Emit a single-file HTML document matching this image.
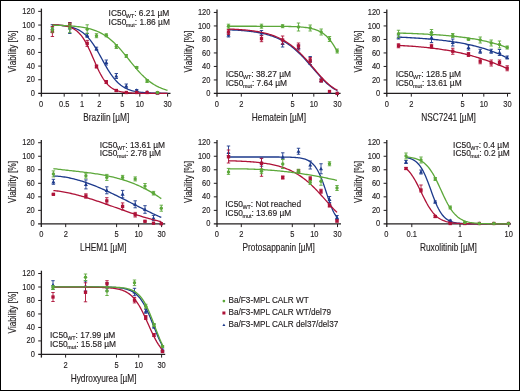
<!DOCTYPE html>
<html><head><meta charset="utf-8"><style>
html,body{margin:0;padding:0;background:#fff;}
svg{display:block;will-change:transform;}
text{font-family:"Liberation Sans",sans-serif;fill:#231f20;stroke:#231f20;stroke-width:0.15px;}
.tk text{font-size:8.5px;}
.al{font-size:10.3px;}
.ic{font-size:8.4px;}
.sub{font-size:5.4px;}
.lg{font-size:8.4px;}
</style></head><body>
<svg width="520" height="391" viewBox="0 0 520 391">
<rect x="0" y="0" width="520" height="391" fill="#fff"/>
<path d="M41.40,8.60 V96.65" stroke="#231f20" stroke-width="1.3" fill="none"/>
<path d="M38.20,93.45 H170.50" stroke="#231f20" stroke-width="1.2" fill="none"/>
<path d="M38.20,79.77 H41.40 M38.20,66.09 H41.40 M38.20,52.41 H41.40 M38.20,38.73 H41.40 M38.20,25.05 H41.40 M38.20,11.37 H41.40 M64.20,93.45 V96.65 M82.00,93.45 V96.65 M99.20,93.45 V96.65 M122.30,93.45 V96.65 M139.80,93.45 V96.65 M167.60,93.45 V96.65 " stroke="#231f20" stroke-width="1" fill="none"/>
<g class="tk"><text transform="translate(34.80,96.00) scale(0.880,1)" text-anchor="end">0</text><text transform="translate(34.80,82.32) scale(0.880,1)" text-anchor="end">20</text><text transform="translate(34.80,68.64) scale(0.880,1)" text-anchor="end">40</text><text transform="translate(34.80,54.96) scale(0.880,1)" text-anchor="end">60</text><text transform="translate(34.80,41.28) scale(0.880,1)" text-anchor="end">80</text><text transform="translate(34.80,27.60) scale(0.880,1)" text-anchor="end">100</text><text transform="translate(34.80,13.92) scale(0.880,1)" text-anchor="end">120</text><text transform="translate(41.00,106.55) scale(0.880,1)" text-anchor="middle">0</text><text transform="translate(64.20,106.55) scale(0.880,1)" text-anchor="middle">0.5</text><text transform="translate(82.00,106.55) scale(0.880,1)" text-anchor="middle">1</text><text transform="translate(99.20,106.55) scale(0.880,1)" text-anchor="middle">2</text><text transform="translate(122.30,106.55) scale(0.880,1)" text-anchor="middle">5</text><text transform="translate(139.80,106.55) scale(0.880,1)" text-anchor="middle">10</text><text transform="translate(167.60,106.55) scale(0.880,1)" text-anchor="middle">30</text></g>
<text class="al" transform="translate(106.25,120.65) scale(0.808,1)" text-anchor="middle">Brazilin [µM]</text>
<text class="al" transform="translate(16.30,51.55) rotate(-90) scale(0.788,1)" text-anchor="middle">Viability [%]</text>
<text class="ic" x="108.60" y="15.80">IC50<tspan class="sub" dx="-0.5" dy="1.9">WT</tspan><tspan dy="-1.9">: 6.21 µM</tspan></text>
<text class="ic" x="108.60" y="24.90">IC50<tspan class="sub" dx="-0.5" dy="1.9">mut</tspan><tspan dy="-1.9">: 1.86 µM</tspan></text>
<path d="M52.40,24.88 L53.86,24.94 L55.31,25.02 L56.77,25.10 L58.23,25.19 L59.68,25.30 L61.14,25.43 L62.60,25.58 L64.06,25.76 L65.51,25.96 L66.97,26.20 L68.43,26.47 L69.88,26.78 L71.34,27.14 L72.80,27.56 L74.25,28.04 L75.71,28.59 L77.17,29.22 L78.63,29.94 L80.08,30.76 L81.54,31.70 L83.00,32.75 L84.45,33.93 L85.91,35.25 L87.37,36.72 L88.82,38.34 L90.28,40.12 L91.74,42.06 L93.19,44.14 L94.65,46.37 L96.11,48.73 L97.57,51.20 L99.02,53.75 L100.48,56.37 L101.94,59.01 L103.39,61.66 L104.85,64.27 L106.31,66.82 L107.76,69.29 L109.22,71.64 L110.68,73.86 L112.14,75.94 L113.59,77.87 L115.05,79.64 L116.51,81.26 L117.96,82.72 L119.42,84.04 L120.88,85.22 L122.33,86.26 L123.79,87.19 L125.25,88.00 L126.71,88.72 L128.16,89.35 L129.62,89.90 L131.08,90.38 L132.53,90.79 L133.99,91.15 L135.45,91.46 L136.90,91.73 L138.36,91.97 L139.82,92.17 L141.27,92.34 L142.73,92.49 L144.19,92.62 L145.65,92.73 L147.10,92.82 L148.56,92.90 L150.02,92.97 L151.47,93.04 L152.93,93.09 L154.39,93.13 L155.84,93.17 L157.30,93.20 L158.76,93.23 L160.22,93.25 L161.67,93.28 L163.13,93.29 L164.59,93.31 L166.04,93.32 L167.50,93.33" stroke="#1d3a8c" stroke-width="1.3" fill="none"/>
<path d="M52.40,24.70 V32.30 M50.70,24.70 H54.10 M50.70,32.30 H54.10" stroke="#1d3a8c" stroke-width="0.9" fill="none"/>
<path d="M52.40,26.50 L54.40,30.10 L50.40,30.10 Z" fill="#1d3a8c"/>
<path d="M69.80,22.50 V33.50 M68.10,22.50 H71.50 M68.10,33.50 H71.50" stroke="#1d3a8c" stroke-width="0.9" fill="none"/>
<path d="M69.80,26.00 L71.80,29.60 L67.80,29.60 Z" fill="#1d3a8c"/>
<path d="M87.20,33.30 V37.30 M85.50,33.30 H88.90 M85.50,37.30 H88.90" stroke="#1d3a8c" stroke-width="0.9" fill="none"/>
<path d="M87.20,33.30 L89.20,36.90 L85.20,36.90 Z" fill="#1d3a8c"/>
<path d="M96.50,47.20 V50.20 M94.80,47.20 H98.20 M94.80,50.20 H98.20" stroke="#1d3a8c" stroke-width="0.9" fill="none"/>
<path d="M96.50,46.70 L98.50,50.30 L94.50,50.30 Z" fill="#1d3a8c"/>
<path d="M106.30,60.00 V65.00 M104.60,60.00 H108.00 M104.60,65.00 H108.00" stroke="#1d3a8c" stroke-width="0.9" fill="none"/>
<path d="M106.30,60.50 L108.30,64.10 L104.30,64.10 Z" fill="#1d3a8c"/>
<path d="M116.30,73.50 V78.50 M114.60,73.50 H118.00 M114.60,78.50 H118.00" stroke="#1d3a8c" stroke-width="0.9" fill="none"/>
<path d="M116.30,74.00 L118.30,77.60 L114.30,77.60 Z" fill="#1d3a8c"/>
<path d="M126.30,84.00 V88.00 M124.60,84.00 H128.00 M124.60,88.00 H128.00" stroke="#1d3a8c" stroke-width="0.9" fill="none"/>
<path d="M126.30,84.00 L128.30,87.60 L124.30,87.60 Z" fill="#1d3a8c"/>
<path d="M136.70,89.50 V91.10 M135.00,89.50 H138.40 M135.00,91.10 H138.40" stroke="#1d3a8c" stroke-width="0.9" fill="none"/>
<path d="M136.70,88.30 L138.70,91.90 L134.70,91.90 Z" fill="#1d3a8c"/>

<path d="M147.10,90.00 L149.10,93.60 L145.10,93.60 Z" fill="#1d3a8c"/>

<path d="M157.50,91.00 L159.50,94.60 L155.50,94.60 Z" fill="#1d3a8c"/>
<path d="M52.40,24.70 L53.86,24.76 L55.31,24.83 L56.77,24.92 L58.23,25.02 L59.68,25.15 L61.14,25.31 L62.60,25.49 L64.06,25.72 L65.51,25.99 L66.97,26.32 L68.43,26.72 L69.88,27.19 L71.34,27.76 L72.80,28.44 L74.25,29.25 L75.71,30.20 L77.17,31.33 L78.63,32.65 L80.08,34.18 L81.54,35.94 L83.00,37.94 L84.45,40.20 L85.91,42.71 L87.37,45.46 L88.82,48.43 L90.28,51.59 L91.74,54.87 L93.19,58.24 L94.65,61.61 L96.11,64.94 L97.57,68.15 L99.02,71.20 L100.48,74.04 L101.94,76.65 L103.39,79.01 L104.85,81.12 L106.31,82.98 L107.76,84.60 L109.22,86.00 L110.68,87.20 L112.14,88.22 L113.59,89.08 L115.05,89.81 L116.51,90.42 L117.96,90.93 L119.42,91.36 L120.88,91.71 L122.33,92.01 L123.79,92.25 L125.25,92.45 L126.71,92.62 L128.16,92.76 L129.62,92.87 L131.08,92.97 L132.53,93.04 L133.99,93.11 L135.45,93.16 L136.90,93.20 L138.36,93.24 L139.82,93.27 L141.27,93.29 L142.73,93.31 L144.19,93.33 L145.65,93.34 L147.10,93.35 L148.56,93.36 L150.02,93.37 L151.47,93.37 L152.93,93.38 L154.39,93.38 L155.84,93.38 L157.30,93.39 L158.76,93.39 L160.22,93.39 L161.67,93.39 L163.13,93.39 L164.59,93.40 L166.04,93.40 L167.50,93.40" stroke="#ae1238" stroke-width="1.3" fill="none"/>
<path d="M52.40,26.50 V36.50 M50.70,26.50 H54.10 M50.70,36.50 H54.10" stroke="#ae1238" stroke-width="0.9" fill="none"/>
<rect x="50.75" y="29.85" width="3.30" height="3.30" fill="#ae1238"/>
<path d="M69.80,22.70 V26.70 M68.10,22.70 H71.50 M68.10,26.70 H71.50" stroke="#ae1238" stroke-width="0.9" fill="none"/>
<rect x="68.15" y="23.05" width="3.30" height="3.30" fill="#ae1238"/>
<path d="M87.20,40.40 V46.40 M85.50,40.40 H88.90 M85.50,46.40 H88.90" stroke="#ae1238" stroke-width="0.9" fill="none"/>
<rect x="85.55" y="41.75" width="3.30" height="3.30" fill="#ae1238"/>
<path d="M96.50,65.00 V68.00 M94.80,65.00 H98.20 M94.80,68.00 H98.20" stroke="#ae1238" stroke-width="0.9" fill="none"/>
<rect x="94.85" y="64.85" width="3.30" height="3.30" fill="#ae1238"/>
<path d="M106.30,80.50 V83.50 M104.60,80.50 H108.00 M104.60,83.50 H108.00" stroke="#ae1238" stroke-width="0.9" fill="none"/>
<rect x="104.65" y="80.35" width="3.30" height="3.30" fill="#ae1238"/>
<path d="M116.30,89.50 V91.50 M114.60,89.50 H118.00 M114.60,91.50 H118.00" stroke="#ae1238" stroke-width="0.9" fill="none"/>
<rect x="114.65" y="88.85" width="3.30" height="3.30" fill="#ae1238"/>

<rect x="124.65" y="90.85" width="3.30" height="3.30" fill="#ae1238"/>

<rect x="135.05" y="90.85" width="3.30" height="3.30" fill="#ae1238"/>

<rect x="145.45" y="90.85" width="3.30" height="3.30" fill="#ae1238"/>

<rect x="155.85" y="91.35" width="3.30" height="3.30" fill="#ae1238"/>
<path d="M52.40,25.20 L53.86,25.23 L55.31,25.26 L56.77,25.30 L58.23,25.34 L59.68,25.39 L61.14,25.44 L62.60,25.50 L64.06,25.56 L65.51,25.63 L66.97,25.71 L68.43,25.80 L69.88,25.90 L71.34,26.00 L72.80,26.12 L74.25,26.25 L75.71,26.40 L77.17,26.56 L78.63,26.74 L80.08,26.93 L81.54,27.15 L83.00,27.38 L84.45,27.65 L85.91,27.93 L87.37,28.25 L88.82,28.60 L90.28,28.98 L91.74,29.41 L93.19,29.87 L94.65,30.37 L96.11,30.92 L97.57,31.52 L99.02,32.17 L100.48,32.88 L101.94,33.65 L103.39,34.48 L104.85,35.38 L106.31,36.35 L107.76,37.38 L109.22,38.49 L110.68,39.67 L112.14,40.92 L113.59,42.25 L115.05,43.65 L116.51,45.12 L117.96,46.65 L119.42,48.24 L120.88,49.89 L122.33,51.59 L123.79,53.33 L125.25,55.10 L126.71,56.90 L128.16,58.71 L129.62,60.53 L131.08,62.34 L132.53,64.14 L133.99,65.91 L135.45,67.65 L136.90,69.35 L138.36,71.00 L139.82,72.59 L141.27,74.12 L142.73,75.59 L144.19,76.99 L145.65,78.32 L147.10,79.57 L148.56,80.75 L150.02,81.86 L151.47,82.89 L152.93,83.86 L154.39,84.76 L155.84,85.59 L157.30,86.36 L158.76,87.07 L160.22,87.72 L161.67,88.32 L163.13,88.87 L164.59,89.38 L166.04,89.84 L167.50,90.26" stroke="#5ca83a" stroke-width="1.3" fill="none"/>
<path d="M52.40,27.40 V32.20 M50.70,27.40 H54.10 M50.70,32.20 H54.10" stroke="#5ca83a" stroke-width="0.9" fill="none"/>
<circle cx="52.40" cy="29.80" r="1.70" fill="#5ca83a"/>
<path d="M69.80,23.60 V32.60 M68.10,23.60 H71.50 M68.10,32.60 H71.50" stroke="#5ca83a" stroke-width="0.9" fill="none"/>
<circle cx="69.80" cy="28.10" r="1.70" fill="#5ca83a"/>
<path d="M87.20,24.80 V33.60 M85.50,24.80 H88.90 M85.50,33.60 H88.90" stroke="#5ca83a" stroke-width="0.9" fill="none"/>
<circle cx="87.20" cy="29.20" r="1.70" fill="#5ca83a"/>
<path d="M96.50,33.70 V37.70 M94.80,33.70 H98.20 M94.80,37.70 H98.20" stroke="#5ca83a" stroke-width="0.9" fill="none"/>
<circle cx="96.50" cy="35.70" r="1.70" fill="#5ca83a"/>
<path d="M106.30,33.80 V36.80 M104.60,33.80 H108.00 M104.60,36.80 H108.00" stroke="#5ca83a" stroke-width="0.9" fill="none"/>
<circle cx="106.30" cy="35.30" r="1.70" fill="#5ca83a"/>
<path d="M116.30,44.50 V48.50 M114.60,44.50 H118.00 M114.60,48.50 H118.00" stroke="#5ca83a" stroke-width="0.9" fill="none"/>
<circle cx="116.30" cy="46.50" r="1.70" fill="#5ca83a"/>
<path d="M126.30,54.50 V57.50 M124.60,54.50 H128.00 M124.60,57.50 H128.00" stroke="#5ca83a" stroke-width="0.9" fill="none"/>
<circle cx="126.30" cy="56.00" r="1.70" fill="#5ca83a"/>
<path d="M136.70,66.50 V68.50 M135.00,66.50 H138.40 M135.00,68.50 H138.40" stroke="#5ca83a" stroke-width="0.9" fill="none"/>
<circle cx="136.70" cy="67.50" r="1.70" fill="#5ca83a"/>
<path d="M147.10,79.50 V82.50 M145.40,79.50 H148.80 M145.40,82.50 H148.80" stroke="#5ca83a" stroke-width="0.9" fill="none"/>
<circle cx="147.10" cy="81.00" r="1.70" fill="#5ca83a"/>
<path d="M157.50,92.00 V93.00 M155.80,92.00 H159.20 M155.80,93.00 H159.20" stroke="#5ca83a" stroke-width="0.9" fill="none"/>
<circle cx="157.50" cy="92.50" r="1.70" fill="#5ca83a"/>
<path d="M217.00,9.60 V96.65" stroke="#231f20" stroke-width="1.3" fill="none"/>
<path d="M213.80,93.45 H340.60" stroke="#231f20" stroke-width="1.2" fill="none"/>
<path d="M213.80,79.95 H217.00 M213.80,66.45 H217.00 M213.80,52.95 H217.00 M213.80,39.45 H217.00 M213.80,25.95 H217.00 M213.80,12.45 H217.00 M241.30,93.45 V96.65 M292.50,93.45 V96.65 M313.80,93.45 V96.65 M337.50,93.45 V96.65 " stroke="#231f20" stroke-width="1" fill="none"/>
<g class="tk"><text transform="translate(210.40,96.00) scale(0.880,1)" text-anchor="end">0</text><text transform="translate(210.40,82.50) scale(0.880,1)" text-anchor="end">20</text><text transform="translate(210.40,69.00) scale(0.880,1)" text-anchor="end">40</text><text transform="translate(210.40,55.50) scale(0.880,1)" text-anchor="end">60</text><text transform="translate(210.40,42.00) scale(0.880,1)" text-anchor="end">80</text><text transform="translate(210.40,28.50) scale(0.880,1)" text-anchor="end">100</text><text transform="translate(210.40,15.00) scale(0.880,1)" text-anchor="end">120</text><text transform="translate(216.80,106.55) scale(0.880,1)" text-anchor="middle">0</text><text transform="translate(241.30,106.55) scale(0.880,1)" text-anchor="middle">2</text><text transform="translate(292.50,106.55) scale(0.880,1)" text-anchor="middle">5</text><text transform="translate(313.80,106.55) scale(0.880,1)" text-anchor="middle">10</text><text transform="translate(337.50,106.55) scale(0.880,1)" text-anchor="middle">30</text></g>
<text class="al" transform="translate(278.90,120.65) scale(0.808,1)" text-anchor="middle">Hematein [µM]</text>
<text class="al" transform="translate(191.90,51.55) rotate(-90) scale(0.788,1)" text-anchor="middle">Viability [%]</text>
<text class="ic" x="225.70" y="77.30">IC50<tspan class="sub" dx="-0.5" dy="1.9">WT</tspan><tspan dy="-1.9">: 38.27 µM</tspan></text>
<text class="ic" x="225.70" y="85.60">IC50<tspan class="sub" dx="-0.5" dy="1.9">mut</tspan><tspan dy="-1.9">: 7.64 µM</tspan></text>
<path d="M228.50,29.78 L229.60,29.83 L230.70,29.87 L231.80,29.92 L232.90,29.98 L234.00,30.03 L235.10,30.09 L236.20,30.16 L237.30,30.22 L238.40,30.30 L239.50,30.37 L240.60,30.45 L241.70,30.53 L242.80,30.62 L243.90,30.72 L245.00,30.82 L246.10,30.92 L247.20,31.03 L248.30,31.15 L249.40,31.28 L250.50,31.41 L251.60,31.55 L252.70,31.69 L253.80,31.85 L254.90,32.01 L256.00,32.18 L257.10,32.37 L258.20,32.56 L259.30,32.76 L260.40,32.98 L261.50,33.20 L262.60,33.44 L263.70,33.69 L264.80,33.96 L265.90,34.24 L267.00,34.53 L268.10,34.84 L269.20,35.17 L270.30,35.51 L271.40,35.87 L272.50,36.25 L273.60,36.65 L274.70,37.07 L275.80,37.51 L276.90,37.98 L278.00,38.46 L279.10,38.97 L280.20,39.50 L281.30,40.06 L282.40,40.65 L283.50,41.26 L284.60,41.90 L285.70,42.56 L286.80,43.26 L287.90,43.98 L289.00,44.74 L290.10,45.52 L291.20,46.34 L292.30,47.19 L293.40,48.07 L294.50,48.98 L295.60,49.92 L296.70,50.90 L297.80,51.90 L298.90,52.94 L300.00,54.01 L301.10,55.10 L302.20,56.22 L303.30,57.37 L304.40,58.54 L305.50,59.74 L306.60,60.96 L307.70,62.20 L308.80,63.45 L309.90,64.71 L311.00,65.99 L312.10,67.28 L313.20,68.56 L314.30,69.85 L315.40,71.13 L316.50,72.41 L317.60,73.68 L318.70,74.93 L319.80,76.16 L320.90,77.36 L322.00,78.54 L323.10,79.69 L324.20,80.81 L325.30,81.88 L326.40,82.92 L327.50,83.91 L328.60,84.85 L329.70,85.74 L330.80,86.59 L331.90,87.38 L333.00,88.13 L334.10,88.82 L335.20,89.46 L336.30,90.04 L337.40,90.58" stroke="#1d3a8c" stroke-width="1.3" fill="none"/>
<path d="M228.50,33.00 V37.00 M226.80,33.00 H230.20 M226.80,37.00 H230.20" stroke="#1d3a8c" stroke-width="0.9" fill="none"/>
<path d="M228.50,33.00 L230.50,36.60 L226.50,36.60 Z" fill="#1d3a8c"/>
<path d="M261.50,30.50 V35.50 M259.80,30.50 H263.20 M259.80,35.50 H263.20" stroke="#1d3a8c" stroke-width="0.9" fill="none"/>
<path d="M261.50,31.00 L263.50,34.60 L259.50,34.60 Z" fill="#1d3a8c"/>
<path d="M282.60,40.00 V47.00 M280.90,40.00 H284.30 M280.90,47.00 H284.30" stroke="#1d3a8c" stroke-width="0.9" fill="none"/>
<path d="M282.60,41.50 L284.60,45.10 L280.60,45.10 Z" fill="#1d3a8c"/>
<path d="M298.50,45.00 V50.00 M296.80,45.00 H300.20 M296.80,50.00 H300.20" stroke="#1d3a8c" stroke-width="0.9" fill="none"/>
<path d="M298.50,45.50 L300.50,49.10 L296.50,49.10 Z" fill="#1d3a8c"/>
<path d="M310.20,56.50 V64.50 M308.50,56.50 H311.90 M308.50,64.50 H311.90" stroke="#1d3a8c" stroke-width="0.9" fill="none"/>
<path d="M310.20,58.50 L312.20,62.10 L308.20,62.10 Z" fill="#1d3a8c"/>
<path d="M321.20,79.00 V82.00 M319.50,79.00 H322.90 M319.50,82.00 H322.90" stroke="#1d3a8c" stroke-width="0.9" fill="none"/>
<path d="M321.20,78.50 L323.20,82.10 L319.20,82.10 Z" fill="#1d3a8c"/>

<path d="M329.50,90.00 L331.50,93.60 L327.50,93.60 Z" fill="#1d3a8c"/>

<path d="M337.20,91.00 L339.20,94.60 L335.20,94.60 Z" fill="#1d3a8c"/>
<path d="M228.50,29.01 L229.60,29.05 L230.70,29.10 L231.80,29.15 L232.90,29.20 L234.00,29.25 L235.10,29.31 L236.20,29.37 L237.30,29.43 L238.40,29.50 L239.50,29.58 L240.60,29.65 L241.70,29.73 L242.80,29.82 L243.90,29.91 L245.00,30.01 L246.10,30.11 L247.20,30.22 L248.30,30.33 L249.40,30.45 L250.50,30.58 L251.60,30.71 L252.70,30.85 L253.80,31.00 L254.90,31.16 L256.00,31.33 L257.10,31.51 L258.20,31.70 L259.30,31.90 L260.40,32.11 L261.50,32.33 L262.60,32.56 L263.70,32.81 L264.80,33.07 L265.90,33.34 L267.00,33.63 L268.10,33.93 L269.20,34.25 L270.30,34.59 L271.40,34.95 L272.50,35.32 L273.60,35.72 L274.70,36.13 L275.80,36.57 L276.90,37.02 L278.00,37.50 L279.10,38.01 L280.20,38.54 L281.30,39.09 L282.40,39.67 L283.50,40.28 L284.60,40.91 L285.70,41.58 L286.80,42.27 L287.90,42.99 L289.00,43.75 L290.10,44.53 L291.20,45.35 L292.30,46.19 L293.40,47.07 L294.50,47.98 L295.60,48.93 L296.70,49.91 L297.80,50.91 L298.90,51.95 L300.00,53.02 L301.10,54.12 L302.20,55.25 L303.30,56.40 L304.40,57.58 L305.50,58.79 L306.60,60.02 L307.70,61.26 L308.80,62.52 L309.90,63.80 L311.00,65.09 L312.10,66.39 L313.20,67.69 L314.30,68.99 L315.40,70.29 L316.50,71.58 L317.60,72.86 L318.70,74.13 L319.80,75.38 L320.90,76.60 L322.00,77.80 L323.10,78.97 L324.20,80.10 L325.30,81.20 L326.40,82.26 L327.50,83.27 L328.60,84.24 L329.70,85.15 L330.80,86.02 L331.90,86.84 L333.00,87.61 L334.10,88.33 L335.20,88.99 L336.30,89.61 L337.40,90.17" stroke="#ae1238" stroke-width="1.3" fill="none"/>
<path d="M228.50,29.50 V34.50 M226.80,29.50 H230.20 M226.80,34.50 H230.20" stroke="#ae1238" stroke-width="0.9" fill="none"/>
<rect x="226.85" y="30.35" width="3.30" height="3.30" fill="#ae1238"/>
<path d="M261.50,35.70 V41.70 M259.80,35.70 H263.20 M259.80,41.70 H263.20" stroke="#ae1238" stroke-width="0.9" fill="none"/>
<rect x="259.85" y="37.05" width="3.30" height="3.30" fill="#ae1238"/>
<path d="M282.60,36.00 V44.00 M280.90,36.00 H284.30 M280.90,44.00 H284.30" stroke="#ae1238" stroke-width="0.9" fill="none"/>
<rect x="280.95" y="38.35" width="3.30" height="3.30" fill="#ae1238"/>
<path d="M298.50,43.00 V49.00 M296.80,43.00 H300.20 M296.80,49.00 H300.20" stroke="#ae1238" stroke-width="0.9" fill="none"/>
<rect x="296.85" y="44.35" width="3.30" height="3.30" fill="#ae1238"/>
<path d="M310.20,57.50 V62.50 M308.50,57.50 H311.90 M308.50,62.50 H311.90" stroke="#ae1238" stroke-width="0.9" fill="none"/>
<rect x="308.55" y="58.35" width="3.30" height="3.30" fill="#ae1238"/>
<path d="M321.20,79.00 V82.00 M319.50,79.00 H322.90 M319.50,82.00 H322.90" stroke="#ae1238" stroke-width="0.9" fill="none"/>
<rect x="319.55" y="78.85" width="3.30" height="3.30" fill="#ae1238"/>

<rect x="327.85" y="89.85" width="3.30" height="3.30" fill="#ae1238"/>

<rect x="335.55" y="91.75" width="3.30" height="3.30" fill="#ae1238"/>
<path d="M228.50,26.27 L229.88,26.27 L231.26,26.27 L232.64,26.27 L234.01,26.27 L235.39,26.27 L236.77,26.27 L238.15,26.27 L239.53,26.27 L240.91,26.27 L242.28,26.27 L243.66,26.27 L245.04,26.27 L246.42,26.27 L247.80,26.27 L249.18,26.27 L250.56,26.27 L251.93,26.27 L253.31,26.27 L254.69,26.27 L256.07,26.27 L257.45,26.28 L258.83,26.28 L260.21,26.28 L261.58,26.28 L262.96,26.28 L264.34,26.28 L265.72,26.29 L267.10,26.29 L268.48,26.29 L269.85,26.30 L271.23,26.30 L272.61,26.31 L273.99,26.31 L275.37,26.32 L276.75,26.33 L278.13,26.34 L279.50,26.35 L280.88,26.36 L282.26,26.37 L283.64,26.39 L285.02,26.41 L286.40,26.43 L287.77,26.46 L289.15,26.49 L290.53,26.52 L291.91,26.56 L293.29,26.61 L294.67,26.66 L296.05,26.72 L297.42,26.79 L298.80,26.87 L300.18,26.96 L301.56,27.07 L302.94,27.19 L304.32,27.33 L305.69,27.50 L307.07,27.69 L308.45,27.91 L309.83,28.16 L311.21,28.44 L312.59,28.77 L313.97,29.15 L315.34,29.59 L316.72,30.08 L318.10,30.65 L319.48,31.30 L320.86,32.03 L322.24,32.87 L323.62,33.82 L324.99,34.89 L326.37,36.10 L327.75,37.46 L329.13,38.98 L330.51,40.67 L331.89,42.55 L333.26,44.61 L334.64,46.87 L336.02,49.33 L337.40,51.99" stroke="#5ca83a" stroke-width="1.3" fill="none"/>
<path d="M228.50,24.20 V28.20 M226.80,24.20 H230.20 M226.80,28.20 H230.20" stroke="#5ca83a" stroke-width="0.9" fill="none"/>
<circle cx="228.50" cy="26.20" r="1.70" fill="#5ca83a"/>
<path d="M261.50,24.20 V28.20 M259.80,24.20 H263.20 M259.80,28.20 H263.20" stroke="#5ca83a" stroke-width="0.9" fill="none"/>
<circle cx="261.50" cy="26.20" r="1.70" fill="#5ca83a"/>
<path d="M282.60,24.70 V27.70 M280.90,24.70 H284.30 M280.90,27.70 H284.30" stroke="#5ca83a" stroke-width="0.9" fill="none"/>
<circle cx="282.60" cy="26.20" r="1.70" fill="#5ca83a"/>
<path d="M298.50,23.00 V31.00 M296.80,23.00 H300.20 M296.80,31.00 H300.20" stroke="#5ca83a" stroke-width="0.9" fill="none"/>
<circle cx="298.50" cy="27.00" r="1.70" fill="#5ca83a"/>
<path d="M310.20,25.00 V31.00 M308.50,25.00 H311.90 M308.50,31.00 H311.90" stroke="#5ca83a" stroke-width="0.9" fill="none"/>
<circle cx="310.20" cy="28.00" r="1.70" fill="#5ca83a"/>
<path d="M321.20,29.00 V35.00 M319.50,29.00 H322.90 M319.50,35.00 H322.90" stroke="#5ca83a" stroke-width="0.9" fill="none"/>
<circle cx="321.20" cy="32.00" r="1.70" fill="#5ca83a"/>
<path d="M329.50,36.50 V41.50 M327.80,36.50 H331.20 M327.80,41.50 H331.20" stroke="#5ca83a" stroke-width="0.9" fill="none"/>
<circle cx="329.50" cy="39.00" r="1.70" fill="#5ca83a"/>
<path d="M337.20,49.00 V53.00 M335.50,49.00 H338.90 M335.50,53.00 H338.90" stroke="#5ca83a" stroke-width="0.9" fill="none"/>
<circle cx="337.20" cy="51.00" r="1.70" fill="#5ca83a"/>
<path d="M386.80,9.60 V96.65" stroke="#231f20" stroke-width="1.3" fill="none"/>
<path d="M383.60,93.45 H510.60" stroke="#231f20" stroke-width="1.2" fill="none"/>
<path d="M383.60,79.95 H386.80 M383.60,66.45 H386.80 M383.60,52.95 H386.80 M383.60,39.45 H386.80 M383.60,25.95 H386.80 M383.60,12.45 H386.80 M411.30,93.45 V96.65 M462.50,93.45 V96.65 M483.80,93.45 V96.65 M507.50,93.45 V96.65 " stroke="#231f20" stroke-width="1" fill="none"/>
<g class="tk"><text transform="translate(380.20,96.00) scale(0.880,1)" text-anchor="end">0</text><text transform="translate(380.20,82.50) scale(0.880,1)" text-anchor="end">20</text><text transform="translate(380.20,69.00) scale(0.880,1)" text-anchor="end">40</text><text transform="translate(380.20,55.50) scale(0.880,1)" text-anchor="end">60</text><text transform="translate(380.20,42.00) scale(0.880,1)" text-anchor="end">80</text><text transform="translate(380.20,28.50) scale(0.880,1)" text-anchor="end">100</text><text transform="translate(380.20,15.00) scale(0.880,1)" text-anchor="end">120</text><text transform="translate(386.80,106.55) scale(0.880,1)" text-anchor="middle">0</text><text transform="translate(411.30,106.55) scale(0.880,1)" text-anchor="middle">2</text><text transform="translate(462.50,106.55) scale(0.880,1)" text-anchor="middle">5</text><text transform="translate(483.80,106.55) scale(0.880,1)" text-anchor="middle">10</text><text transform="translate(507.50,106.55) scale(0.880,1)" text-anchor="middle">30</text></g>
<text class="al" transform="translate(448.50,120.65) scale(0.808,1)" text-anchor="middle">NSC7241 [µM]</text>
<text class="al" transform="translate(361.70,51.55) rotate(-90) scale(0.788,1)" text-anchor="middle">Viability [%]</text>
<text class="ic" x="395.70" y="77.30">IC50<tspan class="sub" dx="-0.5" dy="1.9">WT</tspan><tspan dy="-1.9">: 128.5 µM</tspan></text>
<text class="ic" x="395.70" y="85.60">IC50<tspan class="sub" dx="-0.5" dy="1.9">mut</tspan><tspan dy="-1.9">: 13.61 µM</tspan></text>
<path d="M398.50,37.14 L399.88,37.19 L401.25,37.26 L402.63,37.32 L404.00,37.38 L405.38,37.45 L406.76,37.52 L408.13,37.59 L409.51,37.66 L410.88,37.74 L412.26,37.82 L413.64,37.90 L415.01,37.98 L416.39,38.07 L417.76,38.16 L419.14,38.25 L420.52,38.35 L421.89,38.44 L423.27,38.55 L424.64,38.65 L426.02,38.76 L427.39,38.87 L428.77,38.99 L430.15,39.10 L431.52,39.23 L432.90,39.35 L434.27,39.48 L435.65,39.62 L437.03,39.76 L438.40,39.90 L439.78,40.05 L441.15,40.21 L442.53,40.36 L443.91,40.53 L445.28,40.70 L446.66,40.87 L448.03,41.05 L449.41,41.24 L450.79,41.43 L452.16,41.63 L453.54,41.83 L454.91,42.04 L456.29,42.26 L457.67,42.49 L459.04,42.72 L460.42,42.96 L461.79,43.21 L463.17,43.46 L464.55,43.73 L465.92,44.00 L467.30,44.28 L468.67,44.57 L470.05,44.87 L471.43,45.18 L472.80,45.50 L474.18,45.83 L475.55,46.17 L476.93,46.53 L478.31,46.89 L479.68,47.27 L481.06,47.65 L482.43,48.05 L483.81,48.47 L485.18,48.89 L486.56,49.33 L487.94,49.79 L489.31,50.26 L490.69,50.74 L492.06,51.24 L493.44,51.76 L494.82,52.29 L496.19,52.84 L497.57,53.41 L498.94,54.00 L500.32,54.61 L501.70,55.23 L503.07,55.88 L504.45,56.54 L505.82,57.23 L507.20,57.94" stroke="#1d3a8c" stroke-width="1.3" fill="none"/>
<path d="M398.50,35.00 V39.00 M396.80,35.00 H400.20 M396.80,39.00 H400.20" stroke="#1d3a8c" stroke-width="0.9" fill="none"/>
<path d="M398.50,35.00 L400.50,38.60 L396.50,38.60 Z" fill="#1d3a8c"/>
<path d="M431.50,32.50 V42.50 M429.80,32.50 H433.20 M429.80,42.50 H433.20" stroke="#1d3a8c" stroke-width="0.9" fill="none"/>
<path d="M431.50,35.50 L433.50,39.10 L429.50,39.10 Z" fill="#1d3a8c"/>
<path d="M452.75,39.00 V46.00 M451.05,39.00 H454.45 M451.05,46.00 H454.45" stroke="#1d3a8c" stroke-width="0.9" fill="none"/>
<path d="M452.75,40.50 L454.75,44.10 L450.75,44.10 Z" fill="#1d3a8c"/>
<path d="M468.50,45.00 V50.00 M466.80,45.00 H470.20 M466.80,50.00 H470.20" stroke="#1d3a8c" stroke-width="0.9" fill="none"/>
<path d="M468.50,45.50 L470.50,49.10 L466.50,49.10 Z" fill="#1d3a8c"/>
<path d="M480.20,49.25 V53.25 M478.50,49.25 H481.90 M478.50,53.25 H481.90" stroke="#1d3a8c" stroke-width="0.9" fill="none"/>
<path d="M480.20,49.25 L482.20,52.85 L478.20,52.85 Z" fill="#1d3a8c"/>
<path d="M491.20,49.25 V53.25 M489.50,49.25 H492.90 M489.50,53.25 H492.90" stroke="#1d3a8c" stroke-width="0.9" fill="none"/>
<path d="M491.20,49.25 L493.20,52.85 L489.20,52.85 Z" fill="#1d3a8c"/>
<path d="M499.50,49.50 V55.50 M497.80,49.50 H501.20 M497.80,55.50 H501.20" stroke="#1d3a8c" stroke-width="0.9" fill="none"/>
<path d="M499.50,50.50 L501.50,54.10 L497.50,54.10 Z" fill="#1d3a8c"/>
<path d="M507.20,56.00 V59.00 M505.50,56.00 H508.90 M505.50,59.00 H508.90" stroke="#1d3a8c" stroke-width="0.9" fill="none"/>
<path d="M507.20,55.50 L509.20,59.10 L505.20,59.10 Z" fill="#1d3a8c"/>
<path d="M398.50,45.45 L399.88,45.52 L401.25,45.59 L402.63,45.66 L404.00,45.74 L405.38,45.82 L406.76,45.90 L408.13,45.99 L409.51,46.08 L410.88,46.17 L412.26,46.27 L413.64,46.37 L415.01,46.47 L416.39,46.58 L417.76,46.69 L419.14,46.81 L420.52,46.93 L421.89,47.05 L423.27,47.18 L424.64,47.32 L426.02,47.46 L427.39,47.60 L428.77,47.75 L430.15,47.90 L431.52,48.06 L432.90,48.23 L434.27,48.40 L435.65,48.57 L437.03,48.76 L438.40,48.95 L439.78,49.14 L441.15,49.34 L442.53,49.55 L443.91,49.77 L445.28,49.99 L446.66,50.22 L448.03,50.46 L449.41,50.70 L450.79,50.95 L452.16,51.21 L453.54,51.48 L454.91,51.75 L456.29,52.04 L457.67,52.33 L459.04,52.63 L460.42,52.93 L461.79,53.25 L463.17,53.58 L464.55,53.91 L465.92,54.25 L467.30,54.61 L468.67,54.97 L470.05,55.34 L471.43,55.72 L472.80,56.10 L474.18,56.50 L475.55,56.91 L476.93,57.32 L478.31,57.74 L479.68,58.18 L481.06,58.62 L482.43,59.07 L483.81,59.53 L485.18,59.99 L486.56,60.47 L487.94,60.95 L489.31,61.44 L490.69,61.94 L492.06,62.44 L493.44,62.96 L494.82,63.48 L496.19,64.00 L497.57,64.54 L498.94,65.07 L500.32,65.62 L501.70,66.17 L503.07,66.72 L504.45,67.28 L505.82,67.84 L507.20,68.41" stroke="#ae1238" stroke-width="1.3" fill="none"/>
<path d="M398.50,43.75 V47.75 M396.80,43.75 H400.20 M396.80,47.75 H400.20" stroke="#ae1238" stroke-width="0.9" fill="none"/>
<rect x="396.85" y="44.10" width="3.30" height="3.30" fill="#ae1238"/>
<path d="M431.50,44.25 V48.25 M429.80,44.25 H433.20 M429.80,48.25 H433.20" stroke="#ae1238" stroke-width="0.9" fill="none"/>
<rect x="429.85" y="44.60" width="3.30" height="3.30" fill="#ae1238"/>
<path d="M452.75,48.25 V54.25 M451.05,48.25 H454.45 M451.05,54.25 H454.45" stroke="#ae1238" stroke-width="0.9" fill="none"/>
<rect x="451.10" y="49.60" width="3.30" height="3.30" fill="#ae1238"/>
<path d="M468.50,52.50 V56.50 M466.80,52.50 H470.20 M466.80,56.50 H470.20" stroke="#ae1238" stroke-width="0.9" fill="none"/>
<rect x="466.85" y="52.85" width="3.30" height="3.30" fill="#ae1238"/>
<path d="M480.20,58.75 V63.75 M478.50,58.75 H481.90 M478.50,63.75 H481.90" stroke="#ae1238" stroke-width="0.9" fill="none"/>
<rect x="478.55" y="59.60" width="3.30" height="3.30" fill="#ae1238"/>
<path d="M491.20,60.00 V66.00 M489.50,60.00 H492.90 M489.50,66.00 H492.90" stroke="#ae1238" stroke-width="0.9" fill="none"/>
<rect x="489.55" y="61.35" width="3.30" height="3.30" fill="#ae1238"/>
<path d="M499.50,60.00 V65.00 M497.80,60.00 H501.20 M497.80,65.00 H501.20" stroke="#ae1238" stroke-width="0.9" fill="none"/>
<rect x="497.85" y="60.85" width="3.30" height="3.30" fill="#ae1238"/>
<path d="M507.20,65.75 V70.75 M505.50,65.75 H508.90 M505.50,70.75 H508.90" stroke="#ae1238" stroke-width="0.9" fill="none"/>
<rect x="505.55" y="66.60" width="3.30" height="3.30" fill="#ae1238"/>
<path d="M398.50,33.07 L399.88,33.11 L401.25,33.14 L402.63,33.19 L404.00,33.23 L405.38,33.27 L406.76,33.32 L408.13,33.36 L409.51,33.41 L410.88,33.46 L412.26,33.51 L413.64,33.56 L415.01,33.62 L416.39,33.68 L417.76,33.74 L419.14,33.80 L420.52,33.86 L421.89,33.92 L423.27,33.99 L424.64,34.06 L426.02,34.13 L427.39,34.21 L428.77,34.28 L430.15,34.36 L431.52,34.44 L432.90,34.53 L434.27,34.62 L435.65,34.71 L437.03,34.80 L438.40,34.90 L439.78,35.00 L441.15,35.10 L442.53,35.21 L443.91,35.32 L445.28,35.43 L446.66,35.55 L448.03,35.67 L449.41,35.80 L450.79,35.93 L452.16,36.07 L453.54,36.21 L454.91,36.35 L456.29,36.50 L457.67,36.66 L459.04,36.82 L460.42,36.98 L461.79,37.15 L463.17,37.33 L464.55,37.51 L465.92,37.70 L467.30,37.89 L468.67,38.10 L470.05,38.30 L471.43,38.52 L472.80,38.74 L474.18,38.97 L475.55,39.21 L476.93,39.46 L478.31,39.71 L479.68,39.98 L481.06,40.25 L482.43,40.53 L483.81,40.82 L485.18,41.12 L486.56,41.43 L487.94,41.76 L489.31,42.09 L490.69,42.43 L492.06,42.79 L493.44,43.16 L494.82,43.54 L496.19,43.93 L497.57,44.33 L498.94,44.75 L500.32,45.19 L501.70,45.64 L503.07,46.10 L504.45,46.58 L505.82,47.08 L507.20,47.59" stroke="#5ca83a" stroke-width="1.3" fill="none"/>
<path d="M398.50,30.25 V37.25 M396.80,30.25 H400.20 M396.80,37.25 H400.20" stroke="#5ca83a" stroke-width="0.9" fill="none"/>
<circle cx="398.50" cy="33.75" r="1.70" fill="#5ca83a"/>
<path d="M431.50,29.50 V35.50 M429.80,29.50 H433.20 M429.80,35.50 H433.20" stroke="#5ca83a" stroke-width="0.9" fill="none"/>
<circle cx="431.50" cy="32.50" r="1.70" fill="#5ca83a"/>
<path d="M452.75,33.50 V37.50 M451.05,33.50 H454.45 M451.05,37.50 H454.45" stroke="#5ca83a" stroke-width="0.9" fill="none"/>
<circle cx="452.75" cy="35.50" r="1.70" fill="#5ca83a"/>
<path d="M468.50,38.25 V40.25 M466.80,38.25 H470.20 M466.80,40.25 H470.20" stroke="#5ca83a" stroke-width="0.9" fill="none"/>
<circle cx="468.50" cy="39.25" r="1.70" fill="#5ca83a"/>
<path d="M480.20,37.00 V43.00 M478.50,37.00 H481.90 M478.50,43.00 H481.90" stroke="#5ca83a" stroke-width="0.9" fill="none"/>
<circle cx="480.20" cy="40.00" r="1.70" fill="#5ca83a"/>
<path d="M491.20,40.00 V46.00 M489.50,40.00 H492.90 M489.50,46.00 H492.90" stroke="#5ca83a" stroke-width="0.9" fill="none"/>
<circle cx="491.20" cy="43.00" r="1.70" fill="#5ca83a"/>
<path d="M499.50,41.00 V48.00 M497.80,41.00 H501.20 M497.80,48.00 H501.20" stroke="#5ca83a" stroke-width="0.9" fill="none"/>
<circle cx="499.50" cy="44.50" r="1.70" fill="#5ca83a"/>
<path d="M507.20,46.00 V49.00 M505.50,46.00 H508.90 M505.50,49.00 H508.90" stroke="#5ca83a" stroke-width="0.9" fill="none"/>
<circle cx="507.20" cy="47.50" r="1.70" fill="#5ca83a"/>
<path d="M41.30,140.00 V227.10" stroke="#231f20" stroke-width="1.3" fill="none"/>
<path d="M38.10,223.90 H165.20" stroke="#231f20" stroke-width="1.2" fill="none"/>
<path d="M38.10,210.37 H41.30 M38.10,196.84 H41.30 M38.10,183.31 H41.30 M38.10,169.78 H41.30 M38.10,156.25 H41.30 M38.10,142.72 H41.30 M65.70,223.90 V227.10 M116.60,223.90 V227.10 M138.60,223.90 V227.10 M161.60,223.90 V227.10 " stroke="#231f20" stroke-width="1" fill="none"/>
<g class="tk"><text transform="translate(34.70,226.45) scale(0.880,1)" text-anchor="end">0</text><text transform="translate(34.70,212.92) scale(0.880,1)" text-anchor="end">20</text><text transform="translate(34.70,199.39) scale(0.880,1)" text-anchor="end">40</text><text transform="translate(34.70,185.86) scale(0.880,1)" text-anchor="end">60</text><text transform="translate(34.70,172.33) scale(0.880,1)" text-anchor="end">80</text><text transform="translate(34.70,158.80) scale(0.880,1)" text-anchor="end">100</text><text transform="translate(34.70,145.27) scale(0.880,1)" text-anchor="end">120</text><text transform="translate(41.30,237.00) scale(0.880,1)" text-anchor="middle">0</text><text transform="translate(65.70,237.00) scale(0.880,1)" text-anchor="middle">2</text><text transform="translate(116.60,237.00) scale(0.880,1)" text-anchor="middle">5</text><text transform="translate(138.60,237.00) scale(0.880,1)" text-anchor="middle">10</text><text transform="translate(161.60,237.00) scale(0.880,1)" text-anchor="middle">30</text></g>
<text class="al" transform="translate(103.30,251.10) scale(0.808,1)" text-anchor="middle">LHEM1 [µM]</text>
<text class="al" transform="translate(16.20,182.00) rotate(-90) scale(0.788,1)" text-anchor="middle">Viability [%]</text>
<text class="ic" x="99.70" y="147.70">IC50<tspan class="sub" dx="-0.5" dy="1.9">WT</tspan><tspan dy="-1.9">: 13.61 µM</tspan></text>
<text class="ic" x="99.70" y="156.00">IC50<tspan class="sub" dx="-0.5" dy="1.9">mut</tspan><tspan dy="-1.9">: 2.78 µM</tspan></text>
<path d="M53.40,175.98 L54.77,176.03 L56.13,176.11 L57.50,176.20 L58.86,176.32 L60.23,176.46 L61.59,176.62 L62.96,176.80 L64.33,177.00 L65.69,177.22 L67.06,177.46 L68.42,177.72 L69.79,177.99 L71.16,178.29 L72.52,178.60 L73.89,178.93 L75.25,179.27 L76.62,179.63 L77.98,180.01 L79.35,180.41 L80.72,180.81 L82.08,181.24 L83.45,181.68 L84.81,182.13 L86.18,182.59 L87.55,183.07 L88.91,183.56 L90.28,184.07 L91.64,184.58 L93.01,185.11 L94.37,185.65 L95.74,186.20 L97.11,186.76 L98.47,187.33 L99.84,187.91 L101.20,188.50 L102.57,189.09 L103.94,189.70 L105.30,190.31 L106.67,190.93 L108.03,191.56 L109.40,192.20 L110.76,192.84 L112.13,193.49 L113.50,194.14 L114.86,194.80 L116.23,195.46 L117.59,196.13 L118.96,196.80 L120.33,197.48 L121.69,198.15 L123.06,198.84 L124.42,199.52 L125.79,200.20 L127.15,200.89 L128.52,201.58 L129.89,202.27 L131.25,202.96 L132.62,203.65 L133.98,204.34 L135.35,205.03 L136.72,205.71 L138.08,206.40 L139.45,207.08 L140.81,207.76 L142.18,208.44 L143.54,209.12 L144.91,209.79 L146.28,210.46 L147.64,211.12 L149.01,211.78 L150.37,212.43 L151.74,213.08 L153.11,213.72 L154.47,214.35 L155.84,214.98 L157.20,215.60 L158.57,216.22 L159.93,216.82 L161.30,217.42" stroke="#1d3a8c" stroke-width="1.3" fill="none"/>
<path d="M53.40,179.30 V184.30 M51.70,179.30 H55.10 M51.70,184.30 H55.10" stroke="#1d3a8c" stroke-width="0.9" fill="none"/>
<path d="M53.40,179.80 L55.40,183.40 L51.40,183.40 Z" fill="#1d3a8c"/>
<path d="M85.90,179.90 V188.90 M84.20,179.90 H87.60 M84.20,188.90 H87.60" stroke="#1d3a8c" stroke-width="0.9" fill="none"/>
<path d="M85.90,182.40 L87.90,186.00 L83.90,186.00 Z" fill="#1d3a8c"/>
<path d="M106.80,186.80 V193.80 M105.10,186.80 H108.50 M105.10,193.80 H108.50" stroke="#1d3a8c" stroke-width="0.9" fill="none"/>
<path d="M106.80,188.30 L108.80,191.90 L104.80,191.90 Z" fill="#1d3a8c"/>
<path d="M122.60,190.40 V197.80 M120.90,190.40 H124.30 M120.90,197.80 H124.30" stroke="#1d3a8c" stroke-width="0.9" fill="none"/>
<path d="M122.60,192.10 L124.60,195.70 L120.60,195.70 Z" fill="#1d3a8c"/>
<path d="M135.20,200.80 V207.80 M133.50,200.80 H136.90 M133.50,207.80 H136.90" stroke="#1d3a8c" stroke-width="0.9" fill="none"/>
<path d="M135.20,202.30 L137.20,205.90 L133.20,205.90 Z" fill="#1d3a8c"/>
<path d="M145.00,205.70 V213.30 M143.30,205.70 H146.70 M143.30,213.30 H146.70" stroke="#1d3a8c" stroke-width="0.9" fill="none"/>
<path d="M145.00,207.50 L147.00,211.10 L143.00,211.10 Z" fill="#1d3a8c"/>
<path d="M153.50,215.40 V220.60 M151.80,215.40 H155.20 M151.80,220.60 H155.20" stroke="#1d3a8c" stroke-width="0.9" fill="none"/>
<path d="M153.50,216.00 L155.50,219.60 L151.50,219.60 Z" fill="#1d3a8c"/>

<path d="M161.30,221.40 L163.30,225.00 L159.30,225.00 Z" fill="#1d3a8c"/>
<path d="M53.40,190.55 L54.77,190.69 L56.13,190.85 L57.50,191.02 L58.86,191.21 L60.23,191.41 L61.59,191.63 L62.96,191.86 L64.33,192.10 L65.69,192.35 L67.06,192.62 L68.42,192.90 L69.79,193.19 L71.16,193.50 L72.52,193.81 L73.89,194.14 L75.25,194.48 L76.62,194.82 L77.98,195.18 L79.35,195.54 L80.72,195.92 L82.08,196.30 L83.45,196.70 L84.81,197.10 L86.18,197.50 L87.55,197.92 L88.91,198.34 L90.28,198.77 L91.64,199.21 L93.01,199.65 L94.37,200.10 L95.74,200.55 L97.11,201.01 L98.47,201.47 L99.84,201.93 L101.20,202.40 L102.57,202.88 L103.94,203.36 L105.30,203.84 L106.67,204.32 L108.03,204.80 L109.40,205.29 L110.76,205.78 L112.13,206.26 L113.50,206.75 L114.86,207.24 L116.23,207.73 L117.59,208.22 L118.96,208.71 L120.33,209.20 L121.69,209.69 L123.06,210.17 L124.42,210.65 L125.79,211.14 L127.15,211.61 L128.52,212.09 L129.89,212.56 L131.25,213.03 L132.62,213.49 L133.98,213.95 L135.35,214.40 L136.72,214.85 L138.08,215.29 L139.45,215.73 L140.81,216.16 L142.18,216.59 L143.54,217.01 L144.91,217.42 L146.28,217.82 L147.64,218.21 L149.01,218.60 L150.37,218.98 L151.74,219.35 L153.11,219.70 L154.47,220.05 L155.84,220.39 L157.20,220.72 L158.57,221.04 L159.93,221.35 L161.30,221.64" stroke="#ae1238" stroke-width="1.3" fill="none"/>
<path d="M53.40,193.80 V194.80 M51.70,193.80 H55.10 M51.70,194.80 H55.10" stroke="#ae1238" stroke-width="0.9" fill="none"/>
<rect x="51.75" y="192.65" width="3.30" height="3.30" fill="#ae1238"/>
<path d="M85.90,193.80 V198.20 M84.20,193.80 H87.60 M84.20,198.20 H87.60" stroke="#ae1238" stroke-width="0.9" fill="none"/>
<rect x="84.25" y="194.35" width="3.30" height="3.30" fill="#ae1238"/>
<path d="M106.80,197.70 V204.10 M105.10,197.70 H108.50 M105.10,204.10 H108.50" stroke="#ae1238" stroke-width="0.9" fill="none"/>
<rect x="105.15" y="199.25" width="3.30" height="3.30" fill="#ae1238"/>
<path d="M122.60,202.90 V209.90 M120.90,202.90 H124.30 M120.90,209.90 H124.30" stroke="#ae1238" stroke-width="0.9" fill="none"/>
<rect x="120.95" y="204.75" width="3.30" height="3.30" fill="#ae1238"/>
<path d="M135.20,212.40 V217.00 M133.50,212.40 H136.90 M133.50,217.00 H136.90" stroke="#ae1238" stroke-width="0.9" fill="none"/>
<rect x="133.55" y="213.05" width="3.30" height="3.30" fill="#ae1238"/>
<path d="M145.00,220.80 V221.80 M143.30,220.80 H146.70 M143.30,221.80 H146.70" stroke="#ae1238" stroke-width="0.9" fill="none"/>
<rect x="143.35" y="219.65" width="3.30" height="3.30" fill="#ae1238"/>

<rect x="151.85" y="221.55" width="3.30" height="3.30" fill="#ae1238"/>

<rect x="159.65" y="222.05" width="3.30" height="3.30" fill="#ae1238"/>
<path d="M53.40,168.60 L54.77,168.78 L56.13,168.95 L57.50,169.13 L58.86,169.30 L60.23,169.46 L61.59,169.62 L62.96,169.78 L64.33,169.94 L65.69,170.10 L67.06,170.25 L68.42,170.40 L69.79,170.55 L71.16,170.70 L72.52,170.85 L73.89,171.01 L75.25,171.16 L76.62,171.31 L77.98,171.46 L79.35,171.62 L80.72,171.78 L82.08,171.94 L83.45,172.10 L84.81,172.27 L86.18,172.44 L87.55,172.61 L88.91,172.79 L90.28,172.98 L91.64,173.17 L93.01,173.36 L94.37,173.56 L95.74,173.77 L97.11,173.98 L98.47,174.20 L99.84,174.43 L101.20,174.67 L102.57,174.91 L103.94,175.17 L105.30,175.43 L106.67,175.70 L108.03,175.98 L109.40,176.27 L110.76,176.57 L112.13,176.89 L113.50,177.21 L114.86,177.55 L116.23,177.90 L117.59,178.26 L118.96,178.63 L120.33,179.02 L121.69,179.42 L123.06,179.83 L124.42,180.26 L125.79,180.70 L127.15,181.16 L128.52,181.64 L129.89,182.13 L131.25,182.63 L132.62,183.15 L133.98,183.69 L135.35,184.25 L136.72,184.83 L138.08,185.42 L139.45,186.03 L140.81,186.66 L142.18,187.31 L143.54,187.98 L144.91,188.67 L146.28,189.38 L147.64,190.11 L149.01,190.86 L150.37,191.64 L151.74,192.43 L153.11,193.25 L154.47,194.09 L155.84,194.96 L157.20,195.84 L158.57,196.75 L159.93,197.69 L161.30,198.65" stroke="#5ca83a" stroke-width="1.3" fill="none"/>
<path d="M53.40,170.90 V176.90 M51.70,170.90 H55.10 M51.70,176.90 H55.10" stroke="#5ca83a" stroke-width="0.9" fill="none"/>
<circle cx="53.40" cy="173.90" r="1.70" fill="#5ca83a"/>
<path d="M85.90,173.20 V178.20 M84.20,173.20 H87.60 M84.20,178.20 H87.60" stroke="#5ca83a" stroke-width="0.9" fill="none"/>
<circle cx="85.90" cy="175.70" r="1.70" fill="#5ca83a"/>
<path d="M106.80,174.40 V180.40 M105.10,174.40 H108.50 M105.10,180.40 H108.50" stroke="#5ca83a" stroke-width="0.9" fill="none"/>
<circle cx="106.80" cy="177.40" r="1.70" fill="#5ca83a"/>
<path d="M122.60,175.40 V179.40 M120.90,175.40 H124.30 M120.90,179.40 H124.30" stroke="#5ca83a" stroke-width="0.9" fill="none"/>
<circle cx="122.60" cy="177.40" r="1.70" fill="#5ca83a"/>
<path d="M135.20,176.90 V180.90 M133.50,176.90 H136.90 M133.50,180.90 H136.90" stroke="#5ca83a" stroke-width="0.9" fill="none"/>
<circle cx="135.20" cy="178.90" r="1.70" fill="#5ca83a"/>
<path d="M145.00,183.50 V188.70 M143.30,183.50 H146.70 M143.30,188.70 H146.70" stroke="#5ca83a" stroke-width="0.9" fill="none"/>
<circle cx="145.00" cy="186.10" r="1.70" fill="#5ca83a"/>
<path d="M153.50,191.40 V195.00 M151.80,191.40 H155.20 M151.80,195.00 H155.20" stroke="#5ca83a" stroke-width="0.9" fill="none"/>
<circle cx="153.50" cy="193.20" r="1.70" fill="#5ca83a"/>
<path d="M161.30,205.20 V211.20 M159.60,205.20 H163.00 M159.60,211.20 H163.00" stroke="#5ca83a" stroke-width="0.9" fill="none"/>
<circle cx="161.30" cy="208.20" r="1.70" fill="#5ca83a"/>
<path d="M217.00,140.00 V227.10" stroke="#231f20" stroke-width="1.3" fill="none"/>
<path d="M213.80,223.90 H341.00" stroke="#231f20" stroke-width="1.2" fill="none"/>
<path d="M213.80,210.37 H217.00 M213.80,196.84 H217.00 M213.80,183.31 H217.00 M213.80,169.78 H217.00 M213.80,156.25 H217.00 M213.80,142.72 H217.00 M241.30,223.90 V227.10 M292.30,223.90 V227.10 M314.30,223.90 V227.10 M337.50,223.90 V227.10 " stroke="#231f20" stroke-width="1" fill="none"/>
<g class="tk"><text transform="translate(210.40,226.45) scale(0.880,1)" text-anchor="end">0</text><text transform="translate(210.40,212.92) scale(0.880,1)" text-anchor="end">20</text><text transform="translate(210.40,199.39) scale(0.880,1)" text-anchor="end">40</text><text transform="translate(210.40,185.86) scale(0.880,1)" text-anchor="end">60</text><text transform="translate(210.40,172.33) scale(0.880,1)" text-anchor="end">80</text><text transform="translate(210.40,158.80) scale(0.880,1)" text-anchor="end">100</text><text transform="translate(210.40,145.27) scale(0.880,1)" text-anchor="end">120</text><text transform="translate(216.70,237.00) scale(0.880,1)" text-anchor="middle">0</text><text transform="translate(241.30,237.00) scale(0.880,1)" text-anchor="middle">2</text><text transform="translate(292.30,237.00) scale(0.880,1)" text-anchor="middle">5</text><text transform="translate(314.30,237.00) scale(0.880,1)" text-anchor="middle">10</text><text transform="translate(337.50,237.00) scale(0.880,1)" text-anchor="middle">30</text></g>
<text class="al" transform="translate(278.70,251.10) scale(0.808,1)" text-anchor="middle">Protosappanin [µM]</text>
<text class="al" transform="translate(191.90,182.00) rotate(-90) scale(0.788,1)" text-anchor="middle">Viability [%]</text>
<text class="ic" x="225.25" y="207.30">IC50<tspan class="sub" dx="-0.5" dy="1.9">WT</tspan><tspan dy="-1.9">: Not reached</tspan></text>
<text class="ic" x="225.25" y="215.70">IC50<tspan class="sub" dx="-0.5" dy="1.9">mut</tspan><tspan dy="-1.9">: 13.69 µM</tspan></text>
<path d="M228.50,156.98 L229.60,156.98 L230.69,156.98 L231.79,156.98 L232.88,156.98 L233.98,156.98 L235.08,156.98 L236.17,156.98 L237.27,156.98 L238.36,156.98 L239.46,156.98 L240.56,156.98 L241.65,156.98 L242.75,156.98 L243.84,156.98 L244.94,156.98 L246.04,156.98 L247.13,156.98 L248.23,156.98 L249.32,156.98 L250.42,156.98 L251.52,156.98 L252.61,156.99 L253.71,156.99 L254.80,156.99 L255.90,156.99 L256.99,156.99 L258.09,156.99 L259.19,156.99 L260.28,156.99 L261.38,156.99 L262.47,156.99 L263.57,156.99 L264.67,156.99 L265.76,156.99 L266.86,156.99 L267.95,156.99 L269.05,156.99 L270.15,156.99 L271.24,157.00 L272.34,157.00 L273.43,157.00 L274.53,157.00 L275.63,157.01 L276.72,157.01 L277.82,157.02 L278.91,157.02 L280.01,157.03 L281.11,157.04 L282.20,157.05 L283.30,157.06 L284.39,157.07 L285.49,157.09 L286.59,157.11 L287.68,157.13 L288.78,157.16 L289.87,157.19 L290.97,157.23 L292.07,157.28 L293.16,157.33 L294.26,157.40 L295.35,157.48 L296.45,157.57 L297.55,157.67 L298.64,157.80 L299.74,157.95 L300.83,158.13 L301.93,158.34 L303.03,158.58 L304.12,158.87 L305.22,159.22 L306.31,159.62 L307.41,160.09 L308.51,160.64 L309.60,161.29 L310.70,162.05 L311.79,162.92 L312.89,163.94 L313.98,165.11 L315.08,166.46 L316.18,168.00 L317.27,169.75 L318.37,171.71 L319.46,173.91 L320.56,176.34 L321.66,179.01 L322.75,181.88 L323.85,184.95 L324.94,188.16 L326.04,191.48 L327.14,194.84 L328.23,198.18 L329.33,201.42 L330.42,204.50 L331.52,207.35 L332.62,209.94 L333.71,212.24 L334.81,214.22 L335.90,215.89 L337.00,217.27" stroke="#1d3a8c" stroke-width="1.3" fill="none"/>
<path d="M228.50,146.00 V155.50 M226.80,146.00 H230.20 M226.80,155.50 H230.20" stroke="#1d3a8c" stroke-width="0.9" fill="none"/>
<path d="M228.50,150.50 L230.50,154.10 L226.50,154.10 Z" fill="#1d3a8c"/>
<path d="M261.50,158.20 V166.20 M259.80,158.20 H263.20 M259.80,166.20 H263.20" stroke="#1d3a8c" stroke-width="0.9" fill="none"/>
<path d="M261.50,160.20 L263.50,163.80 L259.50,163.80 Z" fill="#1d3a8c"/>
<path d="M282.75,152.80 V159.00 M281.05,152.80 H284.45 M281.05,159.00 H284.45" stroke="#1d3a8c" stroke-width="0.9" fill="none"/>
<path d="M282.75,155.00 L284.75,158.60 L280.75,158.60 Z" fill="#1d3a8c"/>
<path d="M298.50,148.25 V154.25 M296.80,148.25 H300.20 M296.80,154.25 H300.20" stroke="#1d3a8c" stroke-width="0.9" fill="none"/>
<path d="M298.50,149.25 L300.50,152.85 L296.50,152.85 Z" fill="#1d3a8c"/>
<path d="M310.25,161.00 V169.00 M308.55,161.00 H311.95 M308.55,169.00 H311.95" stroke="#1d3a8c" stroke-width="0.9" fill="none"/>
<path d="M310.25,163.00 L312.25,166.60 L308.25,166.60 Z" fill="#1d3a8c"/>
<path d="M321.00,163.75 V173.75 M319.30,163.75 H322.70 M319.30,173.75 H322.70" stroke="#1d3a8c" stroke-width="0.9" fill="none"/>
<path d="M321.00,166.75 L323.00,170.35 L319.00,170.35 Z" fill="#1d3a8c"/>
<path d="M329.50,196.50 V202.50 M327.80,196.50 H331.20 M327.80,202.50 H331.20" stroke="#1d3a8c" stroke-width="0.9" fill="none"/>
<path d="M329.50,197.50 L331.50,201.10 L327.50,201.10 Z" fill="#1d3a8c"/>
<path d="M337.00,215.50 V219.50 M335.30,215.50 H338.70 M335.30,219.50 H338.70" stroke="#1d3a8c" stroke-width="0.9" fill="none"/>
<path d="M337.00,215.50 L339.00,219.10 L335.00,219.10 Z" fill="#1d3a8c"/>
<path d="M228.50,160.76 L229.60,160.79 L230.69,160.82 L231.79,160.85 L232.88,160.89 L233.98,160.92 L235.08,160.96 L236.17,161.00 L237.27,161.04 L238.36,161.09 L239.46,161.13 L240.56,161.18 L241.65,161.23 L242.75,161.29 L243.84,161.34 L244.94,161.40 L246.04,161.47 L247.13,161.53 L248.23,161.61 L249.32,161.68 L250.42,161.76 L251.52,161.84 L252.61,161.93 L253.71,162.02 L254.80,162.12 L255.90,162.22 L256.99,162.33 L258.09,162.45 L259.19,162.57 L260.28,162.69 L261.38,162.83 L262.47,162.97 L263.57,163.12 L264.67,163.27 L265.76,163.44 L266.86,163.61 L267.95,163.79 L269.05,163.98 L270.15,164.19 L271.24,164.40 L272.34,164.62 L273.43,164.86 L274.53,165.11 L275.63,165.37 L276.72,165.64 L277.82,165.93 L278.91,166.23 L280.01,166.55 L281.11,166.88 L282.20,167.23 L283.30,167.60 L284.39,167.98 L285.49,168.38 L286.59,168.81 L287.68,169.25 L288.78,169.71 L289.87,170.20 L290.97,170.70 L292.07,171.23 L293.16,171.79 L294.26,172.36 L295.35,172.97 L296.45,173.60 L297.55,174.25 L298.64,174.93 L299.74,175.64 L300.83,176.38 L301.93,177.15 L303.03,177.94 L304.12,178.77 L305.22,179.62 L306.31,180.51 L307.41,181.42 L308.51,182.36 L309.60,183.33 L310.70,184.33 L311.79,185.36 L312.89,186.42 L313.98,187.50 L315.08,188.61 L316.18,189.74 L317.27,190.89 L318.37,192.07 L319.46,193.26 L320.56,194.47 L321.66,195.69 L322.75,196.92 L323.85,198.16 L324.94,199.41 L326.04,200.66 L327.14,201.90 L328.23,203.15 L329.33,204.38 L330.42,205.59 L331.52,206.79 L332.62,207.97 L333.71,209.12 L334.81,210.25 L335.90,211.34 L337.00,212.39" stroke="#ae1238" stroke-width="1.3" fill="none"/>
<path d="M228.50,150.00 V163.00 M226.80,150.00 H230.20 M226.80,163.00 H230.20" stroke="#ae1238" stroke-width="0.9" fill="none"/>
<rect x="226.85" y="155.15" width="3.30" height="3.30" fill="#ae1238"/>
<path d="M261.50,158.30 V176.30 M259.80,158.30 H263.20 M259.80,176.30 H263.20" stroke="#ae1238" stroke-width="0.9" fill="none"/>
<rect x="259.85" y="161.65" width="3.30" height="3.30" fill="#ae1238"/>
<path d="M282.75,176.00 V179.00 M281.05,176.00 H284.45 M281.05,179.00 H284.45" stroke="#ae1238" stroke-width="0.9" fill="none"/>
<rect x="281.10" y="175.85" width="3.30" height="3.30" fill="#ae1238"/>
<path d="M298.50,169.75 V172.75 M296.80,169.75 H300.20 M296.80,172.75 H300.20" stroke="#ae1238" stroke-width="0.9" fill="none"/>
<rect x="296.85" y="169.60" width="3.30" height="3.30" fill="#ae1238"/>
<path d="M310.25,176.75 V180.75 M308.55,176.75 H311.95 M308.55,180.75 H311.95" stroke="#ae1238" stroke-width="0.9" fill="none"/>
<rect x="308.60" y="177.10" width="3.30" height="3.30" fill="#ae1238"/>
<path d="M321.00,189.25 V193.25 M319.30,189.25 H322.70 M319.30,193.25 H322.70" stroke="#ae1238" stroke-width="0.9" fill="none"/>
<rect x="319.35" y="189.60" width="3.30" height="3.30" fill="#ae1238"/>
<path d="M329.50,204.00 V207.00 M327.80,204.00 H331.20 M327.80,207.00 H331.20" stroke="#ae1238" stroke-width="0.9" fill="none"/>
<rect x="327.85" y="203.85" width="3.30" height="3.30" fill="#ae1238"/>
<path d="M337.00,220.00 V222.00 M335.30,220.00 H338.70 M335.30,222.00 H338.70" stroke="#ae1238" stroke-width="0.9" fill="none"/>
<rect x="335.35" y="219.35" width="3.30" height="3.30" fill="#ae1238"/>
<path d="M228.50,168.90 L229.87,168.88 L231.25,168.87 L232.62,168.86 L233.99,168.85 L235.37,168.85 L236.74,168.85 L238.11,168.85 L239.49,168.86 L240.86,168.87 L242.23,168.89 L243.61,168.91 L244.98,168.94 L246.35,168.97 L247.73,169.01 L249.10,169.04 L250.47,169.09 L251.85,169.13 L253.22,169.19 L254.59,169.24 L255.97,169.30 L257.34,169.37 L258.72,169.44 L260.09,169.51 L261.46,169.59 L262.84,169.67 L264.21,169.75 L265.58,169.84 L266.96,169.94 L268.33,170.03 L269.70,170.14 L271.08,170.24 L272.45,170.35 L273.82,170.47 L275.20,170.59 L276.57,170.71 L277.94,170.84 L279.32,170.97 L280.69,171.11 L282.06,171.25 L283.44,171.39 L284.81,171.54 L286.18,171.69 L287.56,171.85 L288.93,172.01 L290.30,172.18 L291.68,172.35 L293.05,172.52 L294.42,172.70 L295.80,172.88 L297.17,173.07 L298.54,173.26 L299.92,173.46 L301.29,173.66 L302.66,173.86 L304.04,174.07 L305.41,174.28 L306.78,174.50 L308.16,174.72 L309.53,174.94 L310.91,175.17 L312.28,175.41 L313.65,175.64 L315.03,175.89 L316.40,176.13 L317.77,176.38 L319.15,176.64 L320.52,176.90 L321.89,177.16 L323.27,177.43 L324.64,177.70 L326.01,177.97 L327.39,178.25 L328.76,178.54 L330.13,178.83 L331.51,179.12 L332.88,179.41 L334.25,179.72 L335.63,180.02 L337.00,180.33" stroke="#5ca83a" stroke-width="1.3" fill="none"/>
<path d="M228.50,168.40 V174.40 M226.80,168.40 H230.20 M226.80,174.40 H230.20" stroke="#5ca83a" stroke-width="0.9" fill="none"/>
<circle cx="228.50" cy="171.90" r="1.70" fill="#5ca83a"/>
<path d="M261.50,168.70 V173.70 M259.80,168.70 H263.20 M259.80,173.70 H263.20" stroke="#5ca83a" stroke-width="0.9" fill="none"/>
<circle cx="261.50" cy="171.20" r="1.70" fill="#5ca83a"/>
<path d="M282.75,159.50 V168.50 M281.05,159.50 H284.45 M281.05,168.50 H284.45" stroke="#5ca83a" stroke-width="0.9" fill="none"/>
<circle cx="282.75" cy="164.00" r="1.70" fill="#5ca83a"/>
<path d="M298.50,169.25 V173.25 M296.80,169.25 H300.20 M296.80,173.25 H300.20" stroke="#5ca83a" stroke-width="0.9" fill="none"/>
<circle cx="298.50" cy="171.25" r="1.70" fill="#5ca83a"/>
<path d="M310.25,180.50 V184.50 M308.55,180.50 H311.95 M308.55,184.50 H311.95" stroke="#5ca83a" stroke-width="0.9" fill="none"/>
<circle cx="310.25" cy="182.50" r="1.70" fill="#5ca83a"/>
<path d="M321.00,177.25 V185.25 M319.30,177.25 H322.70 M319.30,185.25 H322.70" stroke="#5ca83a" stroke-width="0.9" fill="none"/>
<circle cx="321.00" cy="181.25" r="1.70" fill="#5ca83a"/>
<path d="M329.50,161.75 V165.75 M327.80,161.75 H331.20 M327.80,165.75 H331.20" stroke="#5ca83a" stroke-width="0.9" fill="none"/>
<circle cx="329.50" cy="163.75" r="1.70" fill="#5ca83a"/>
<path d="M337.00,185.50 V190.50 M335.30,185.50 H338.70 M335.30,190.50 H338.70" stroke="#5ca83a" stroke-width="0.9" fill="none"/>
<circle cx="337.00" cy="188.00" r="1.70" fill="#5ca83a"/>
<path d="M386.80,140.00 V227.10" stroke="#231f20" stroke-width="1.3" fill="none"/>
<path d="M383.60,223.90 H511.00" stroke="#231f20" stroke-width="1.2" fill="none"/>
<path d="M383.60,210.37 H386.80 M383.60,196.84 H386.80 M383.60,183.31 H386.80 M383.60,169.78 H386.80 M383.60,156.25 H386.80 M383.60,142.72 H386.80 M411.80,223.90 V227.10 M460.00,223.90 V227.10 M508.70,223.90 V227.10 " stroke="#231f20" stroke-width="1" fill="none"/>
<g class="tk"><text transform="translate(380.20,226.45) scale(0.880,1)" text-anchor="end">0</text><text transform="translate(380.20,212.92) scale(0.880,1)" text-anchor="end">20</text><text transform="translate(380.20,199.39) scale(0.880,1)" text-anchor="end">40</text><text transform="translate(380.20,185.86) scale(0.880,1)" text-anchor="end">60</text><text transform="translate(380.20,172.33) scale(0.880,1)" text-anchor="end">80</text><text transform="translate(380.20,158.80) scale(0.880,1)" text-anchor="end">100</text><text transform="translate(380.20,145.27) scale(0.880,1)" text-anchor="end">120</text><text transform="translate(386.30,237.00) scale(0.880,1)" text-anchor="middle">0</text><text transform="translate(411.80,237.00) scale(0.880,1)" text-anchor="middle">0.1</text><text transform="translate(460.00,237.00) scale(0.880,1)" text-anchor="middle">1</text><text transform="translate(508.70,237.00) scale(0.880,1)" text-anchor="middle">10</text></g>
<text class="al" transform="translate(448.40,251.10) scale(0.808,1)" text-anchor="middle">Ruxolitinib [µM]</text>
<text class="al" transform="translate(361.70,182.00) rotate(-90) scale(0.788,1)" text-anchor="middle">Viability [%]</text>
<text class="ic" x="453.10" y="147.60">IC50<tspan class="sub" dx="-0.5" dy="1.9">WT</tspan><tspan dy="-1.9">: 0.4 µM</tspan></text>
<text class="ic" x="453.10" y="155.80">IC50<tspan class="sub" dx="-0.5" dy="1.9">mut</tspan><tspan dy="-1.9">: 0.2 µM</tspan></text>
<path d="M406.00,157.43 L407.30,157.69 L408.60,158.01 L409.90,158.40 L411.20,158.88 L412.50,159.46 L413.80,160.17 L415.10,161.03 L416.40,162.05 L417.70,163.28 L419.00,164.73 L420.30,166.43 L421.60,168.41 L422.90,170.67 L424.20,173.23 L425.50,176.07 L426.80,179.18 L428.10,182.51 L429.40,186.00 L430.70,189.58 L432.00,193.17 L433.30,196.70 L434.60,200.08 L435.90,203.26 L437.20,206.18 L438.50,208.82 L439.80,211.17 L441.10,213.23 L442.40,215.01 L443.70,216.53 L445.00,217.82 L446.30,218.90 L447.60,219.80 L448.90,220.55 L450.20,221.17 L451.50,221.67 L452.80,222.09 L454.10,222.43 L455.40,222.71 L456.70,222.93 L458.00,223.12 L459.30,223.26 L460.60,223.39 L461.90,223.48 L463.20,223.56 L464.50,223.63 L465.80,223.68 L467.10,223.72 L468.40,223.76 L469.70,223.78 L471.00,223.81 L472.30,223.82 L473.60,223.84 L474.90,223.85 L476.20,223.86 L477.50,223.87 L478.80,223.87 L480.10,223.88 L481.40,223.88 L482.70,223.89 L484.00,223.89 L485.30,223.89 L486.60,223.89 L487.90,223.89 L489.20,223.90 L490.50,223.90 L491.80,223.90 L493.10,223.90 L494.40,223.90 L495.70,223.90 L497.00,223.90 L498.30,223.90 L499.60,223.90 L500.90,223.90 L502.20,223.90 L503.50,223.90 L504.80,223.90 L506.10,223.90 L507.40,223.90 L508.70,223.90" stroke="#1d3a8c" stroke-width="1.3" fill="none"/>
<path d="M406.00,160.50 V163.50 M404.30,160.50 H407.70 M404.30,163.50 H407.70" stroke="#1d3a8c" stroke-width="0.9" fill="none"/>
<path d="M406.00,160.00 L408.00,163.60 L404.00,163.60 Z" fill="#1d3a8c"/>
<path d="M421.00,170.00 V174.00 M419.30,170.00 H422.70 M419.30,174.00 H422.70" stroke="#1d3a8c" stroke-width="0.9" fill="none"/>
<path d="M421.00,170.00 L423.00,173.60 L419.00,173.60 Z" fill="#1d3a8c"/>
<path d="M435.25,201.00 V203.00 M433.55,201.00 H436.95 M433.55,203.00 H436.95" stroke="#1d3a8c" stroke-width="0.9" fill="none"/>
<path d="M435.25,200.00 L437.25,203.60 L433.25,203.60 Z" fill="#1d3a8c"/>
<path d="M450.25,220.00 V221.00 M448.55,220.00 H451.95 M448.55,221.00 H451.95" stroke="#1d3a8c" stroke-width="0.9" fill="none"/>
<path d="M450.25,218.50 L452.25,222.10 L448.25,222.10 Z" fill="#1d3a8c"/>

<path d="M464.80,221.50 L466.80,225.10 L462.80,225.10 Z" fill="#1d3a8c"/>

<path d="M479.30,221.50 L481.30,225.10 L477.30,225.10 Z" fill="#1d3a8c"/>

<path d="M493.90,221.50 L495.90,225.10 L491.90,225.10 Z" fill="#1d3a8c"/>

<path d="M508.50,221.50 L510.50,225.10 L506.50,225.10 Z" fill="#1d3a8c"/>
<path d="M406.00,168.39 L407.30,169.58 L408.60,170.94 L409.90,172.46 L411.20,174.15 L412.50,176.02 L413.80,178.06 L415.10,180.27 L416.40,182.63 L417.70,185.11 L419.00,187.70 L420.30,190.35 L421.60,193.03 L422.90,195.70 L424.20,198.33 L425.50,200.87 L426.80,203.30 L428.10,205.59 L429.40,207.72 L430.70,209.69 L432.00,211.47 L433.30,213.09 L434.60,214.53 L435.90,215.81 L437.20,216.94 L438.50,217.93 L439.80,218.79 L441.10,219.53 L442.40,220.18 L443.70,220.73 L445.00,221.21 L446.30,221.61 L447.60,221.96 L448.90,222.26 L450.20,222.51 L451.50,222.72 L452.80,222.90 L454.10,223.06 L455.40,223.19 L456.70,223.30 L458.00,223.39 L459.30,223.47 L460.60,223.54 L461.90,223.59 L463.20,223.64 L464.50,223.68 L465.80,223.72 L467.10,223.75 L468.40,223.77 L469.70,223.79 L471.00,223.81 L472.30,223.82 L473.60,223.83 L474.90,223.84 L476.20,223.85 L477.50,223.86 L478.80,223.87 L480.10,223.87 L481.40,223.88 L482.70,223.88 L484.00,223.88 L485.30,223.89 L486.60,223.89 L487.90,223.89 L489.20,223.89 L490.50,223.89 L491.80,223.89 L493.10,223.89 L494.40,223.90 L495.70,223.90 L497.00,223.90 L498.30,223.90 L499.60,223.90 L500.90,223.90 L502.20,223.90 L503.50,223.90 L504.80,223.90 L506.10,223.90 L507.40,223.90 L508.70,223.90" stroke="#ae1238" stroke-width="1.3" fill="none"/>
<path d="M406.00,167.50 V169.50 M404.30,167.50 H407.70 M404.30,169.50 H407.70" stroke="#ae1238" stroke-width="0.9" fill="none"/>
<rect x="404.35" y="166.85" width="3.30" height="3.30" fill="#ae1238"/>
<path d="M421.00,185.00 V192.00 M419.30,185.00 H422.70 M419.30,192.00 H422.70" stroke="#ae1238" stroke-width="0.9" fill="none"/>
<rect x="419.35" y="188.35" width="3.30" height="3.30" fill="#ae1238"/>
<path d="M435.25,215.50 V217.50 M433.55,215.50 H436.95 M433.55,217.50 H436.95" stroke="#ae1238" stroke-width="0.9" fill="none"/>
<rect x="433.60" y="214.85" width="3.30" height="3.30" fill="#ae1238"/>
<path d="M450.25,223.00 V224.00 M448.55,223.00 H451.95 M448.55,224.00 H451.95" stroke="#ae1238" stroke-width="0.9" fill="none"/>
<rect x="448.60" y="221.85" width="3.30" height="3.30" fill="#ae1238"/>

<rect x="463.15" y="221.85" width="3.30" height="3.30" fill="#ae1238"/>

<rect x="477.65" y="221.85" width="3.30" height="3.30" fill="#ae1238"/>

<rect x="492.25" y="221.85" width="3.30" height="3.30" fill="#ae1238"/>

<rect x="506.85" y="221.85" width="3.30" height="3.30" fill="#ae1238"/>
<path d="M406.00,156.88 L407.30,157.01 L408.60,157.16 L409.90,157.35 L411.20,157.56 L412.50,157.81 L413.80,158.10 L415.10,158.45 L416.40,158.85 L417.70,159.32 L419.00,159.87 L420.30,160.51 L421.60,161.24 L422.90,162.09 L424.20,163.07 L425.50,164.19 L426.80,165.46 L428.10,166.89 L429.40,168.50 L430.70,170.30 L432.00,172.27 L433.30,174.43 L434.60,176.76 L435.90,179.25 L437.20,181.88 L438.50,184.62 L439.80,187.43 L441.10,190.27 L442.40,193.12 L443.70,195.92 L445.00,198.63 L446.30,201.24 L447.60,203.71 L448.90,206.01 L450.20,208.14 L451.50,210.08 L452.80,211.84 L454.10,213.42 L455.40,214.83 L456.70,216.07 L458.00,217.16 L459.30,218.12 L460.60,218.95 L461.90,219.67 L463.20,220.29 L464.50,220.82 L465.80,221.28 L467.10,221.67 L468.40,222.01 L469.70,222.30 L471.00,222.54 L472.30,222.75 L473.60,222.92 L474.90,223.07 L476.20,223.20 L477.50,223.31 L478.80,223.40 L480.10,223.48 L481.40,223.54 L482.70,223.60 L484.00,223.64 L485.30,223.68 L486.60,223.72 L487.90,223.74 L489.20,223.77 L490.50,223.79 L491.80,223.81 L493.10,223.82 L494.40,223.83 L495.70,223.84 L497.00,223.85 L498.30,223.86 L499.60,223.87 L500.90,223.87 L502.20,223.88 L503.50,223.88 L504.80,223.88 L506.10,223.89 L507.40,223.89 L508.70,223.89" stroke="#5ca83a" stroke-width="1.3" fill="none"/>
<path d="M406.00,153.00 V159.00 M404.30,153.00 H407.70 M404.30,159.00 H407.70" stroke="#5ca83a" stroke-width="0.9" fill="none"/>
<circle cx="406.00" cy="156.00" r="1.70" fill="#5ca83a"/>
<path d="M421.00,157.00 V163.00 M419.30,157.00 H422.70 M419.30,163.00 H422.70" stroke="#5ca83a" stroke-width="0.9" fill="none"/>
<circle cx="421.00" cy="160.00" r="1.70" fill="#5ca83a"/>
<path d="M435.25,177.50 V180.50 M433.55,177.50 H436.95 M433.55,180.50 H436.95" stroke="#5ca83a" stroke-width="0.9" fill="none"/>
<circle cx="435.25" cy="179.00" r="1.70" fill="#5ca83a"/>
<path d="M450.25,206.00 V209.00 M448.55,206.00 H451.95 M448.55,209.00 H451.95" stroke="#5ca83a" stroke-width="0.9" fill="none"/>
<circle cx="450.25" cy="207.50" r="1.70" fill="#5ca83a"/>
<path d="M464.80,222.00 V223.00 M463.10,222.00 H466.50 M463.10,223.00 H466.50" stroke="#5ca83a" stroke-width="0.9" fill="none"/>
<circle cx="464.80" cy="222.50" r="1.70" fill="#5ca83a"/>

<circle cx="479.30" cy="223.50" r="1.70" fill="#5ca83a"/>

<circle cx="493.90" cy="223.50" r="1.70" fill="#5ca83a"/>

<circle cx="508.50" cy="223.50" r="1.70" fill="#5ca83a"/>
<path d="M41.40,270.70 V357.60" stroke="#231f20" stroke-width="1.3" fill="none"/>
<path d="M38.20,354.40 H165.20" stroke="#231f20" stroke-width="1.2" fill="none"/>
<path d="M38.20,340.92 H41.40 M38.20,327.44 H41.40 M38.20,313.96 H41.40 M38.20,300.48 H41.40 M38.20,287.00 H41.40 M38.20,273.52 H41.40 M65.60,354.40 V357.60 M116.50,354.40 V357.60 M138.70,354.40 V357.60 M161.60,354.40 V357.60 " stroke="#231f20" stroke-width="1" fill="none"/>
<g class="tk"><text transform="translate(34.80,356.95) scale(0.880,1)" text-anchor="end">0</text><text transform="translate(34.80,343.47) scale(0.880,1)" text-anchor="end">20</text><text transform="translate(34.80,329.99) scale(0.880,1)" text-anchor="end">40</text><text transform="translate(34.80,316.51) scale(0.880,1)" text-anchor="end">60</text><text transform="translate(34.80,303.03) scale(0.880,1)" text-anchor="end">80</text><text transform="translate(34.80,289.55) scale(0.880,1)" text-anchor="end">100</text><text transform="translate(34.80,276.07) scale(0.880,1)" text-anchor="end">120</text><text transform="translate(65.60,367.50) scale(0.880,1)" text-anchor="middle">2</text><text transform="translate(116.50,367.50) scale(0.880,1)" text-anchor="middle">5</text><text transform="translate(138.70,367.50) scale(0.880,1)" text-anchor="middle">10</text><text transform="translate(161.60,367.50) scale(0.880,1)" text-anchor="middle">30</text></g>
<text class="al" transform="translate(103.60,381.60) scale(0.808,1)" text-anchor="middle">Hydroxyurea [µM]</text>
<text class="al" transform="translate(16.30,312.50) rotate(-90) scale(0.788,1)" text-anchor="middle">Viability [%]</text>
<text class="ic" x="50.00" y="338.20">IC50<tspan class="sub" dx="-0.5" dy="1.9">WT</tspan><tspan dy="-1.9">: 17.99 µM</tspan></text>
<text class="ic" x="50.00" y="346.80">IC50<tspan class="sub" dx="-0.5" dy="1.9">mut</tspan><tspan dy="-1.9">: 15.58 µM</tspan></text>
<path d="M53.00,286.96 L54.39,286.96 L55.77,286.96 L57.16,286.96 L58.54,286.96 L59.93,286.96 L61.32,286.96 L62.70,286.96 L64.09,286.96 L65.47,286.96 L66.86,286.96 L68.25,286.96 L69.63,286.96 L71.02,286.97 L72.41,286.97 L73.79,286.97 L75.18,286.97 L76.56,286.97 L77.95,286.97 L79.34,286.97 L80.72,286.97 L82.11,286.97 L83.49,286.97 L84.88,286.97 L86.27,286.97 L87.65,286.98 L89.04,286.98 L90.42,286.98 L91.81,286.99 L93.20,286.99 L94.58,287.00 L95.97,287.00 L97.35,287.01 L98.74,287.02 L100.13,287.03 L101.51,287.05 L102.90,287.06 L104.28,287.08 L105.67,287.11 L107.06,287.14 L108.44,287.17 L109.83,287.21 L111.22,287.26 L112.60,287.32 L113.99,287.39 L115.37,287.48 L116.76,287.58 L118.15,287.70 L119.53,287.85 L120.92,288.02 L122.30,288.23 L123.69,288.48 L125.08,288.78 L126.46,289.13 L127.85,289.55 L129.23,290.05 L130.62,290.64 L132.01,291.33 L133.39,292.15 L134.78,293.10 L136.16,294.21 L137.55,295.50 L138.94,296.99 L140.32,298.69 L141.71,300.61 L143.09,302.78 L144.48,305.19 L145.87,307.85 L147.25,310.73 L148.64,313.82 L150.03,317.08 L151.41,320.46 L152.80,323.93 L154.18,327.41 L155.57,330.86 L156.96,334.22 L158.34,337.43 L159.73,340.46 L161.11,343.28 L162.50,345.87" stroke="#1d3a8c" stroke-width="1.3" fill="none"/>
<path d="M53.00,280.70 V289.30 M51.30,280.70 H54.70 M51.30,289.30 H54.70" stroke="#1d3a8c" stroke-width="0.9" fill="none"/>
<path d="M53.00,283.00 L55.00,286.60 L51.00,286.60 Z" fill="#1d3a8c"/>
<path d="M85.50,281.00 V291.00 M83.80,281.00 H87.20 M83.80,291.00 H87.20" stroke="#1d3a8c" stroke-width="0.9" fill="none"/>
<path d="M85.50,284.00 L87.50,287.60 L83.50,287.60 Z" fill="#1d3a8c"/>
<path d="M107.00,283.00 V291.00 M105.30,283.00 H108.70 M105.30,291.00 H108.70" stroke="#1d3a8c" stroke-width="0.9" fill="none"/>
<path d="M107.00,285.00 L109.00,288.60 L105.00,288.60 Z" fill="#1d3a8c"/>
<path d="M134.50,288.30 V295.70 M132.80,288.30 H136.20 M132.80,295.70 H136.20" stroke="#1d3a8c" stroke-width="0.9" fill="none"/>
<path d="M134.50,290.00 L136.50,293.60 L132.50,293.60 Z" fill="#1d3a8c"/>
<path d="M145.75,309.25 V313.25 M144.05,309.25 H147.45 M144.05,313.25 H147.45" stroke="#1d3a8c" stroke-width="0.9" fill="none"/>
<path d="M145.75,309.25 L147.75,312.85 L143.75,312.85 Z" fill="#1d3a8c"/>
<path d="M154.00,324.25 V328.25 M152.30,324.25 H155.70 M152.30,328.25 H155.70" stroke="#1d3a8c" stroke-width="0.9" fill="none"/>
<path d="M154.00,324.25 L156.00,327.85 L152.00,327.85 Z" fill="#1d3a8c"/>
<path d="M162.50,349.00 V351.00 M160.80,349.00 H164.20 M160.80,351.00 H164.20" stroke="#1d3a8c" stroke-width="0.9" fill="none"/>
<path d="M162.50,348.00 L164.50,351.60 L160.50,351.60 Z" fill="#1d3a8c"/>
<path d="M53.00,287.19 L54.39,287.19 L55.77,287.19 L57.16,287.19 L58.54,287.19 L59.93,287.19 L61.32,287.19 L62.70,287.19 L64.09,287.19 L65.47,287.19 L66.86,287.19 L68.25,287.19 L69.63,287.19 L71.02,287.19 L72.41,287.19 L73.79,287.19 L75.18,287.19 L76.56,287.20 L77.95,287.20 L79.34,287.20 L80.72,287.20 L82.11,287.21 L83.49,287.21 L84.88,287.22 L86.27,287.22 L87.65,287.23 L89.04,287.24 L90.42,287.25 L91.81,287.26 L93.20,287.28 L94.58,287.29 L95.97,287.31 L97.35,287.34 L98.74,287.37 L100.13,287.40 L101.51,287.44 L102.90,287.49 L104.28,287.54 L105.67,287.61 L107.06,287.68 L108.44,287.77 L109.83,287.88 L111.22,288.00 L112.60,288.15 L113.99,288.33 L115.37,288.53 L116.76,288.77 L118.15,289.06 L119.53,289.39 L120.92,289.78 L122.30,290.23 L123.69,290.77 L125.08,291.38 L126.46,292.10 L127.85,292.93 L129.23,293.89 L130.62,294.99 L132.01,296.24 L133.39,297.66 L134.78,299.27 L136.16,301.07 L137.55,303.06 L138.94,305.26 L140.32,307.65 L141.71,310.23 L143.09,312.98 L144.48,315.87 L145.87,318.87 L147.25,321.95 L148.64,325.06 L150.03,328.15 L151.41,331.19 L152.80,334.13 L154.18,336.95 L155.57,339.60 L156.96,342.08 L158.34,344.36 L159.73,346.45 L161.11,348.33 L162.50,350.02" stroke="#ae1238" stroke-width="1.3" fill="none"/>
<path d="M53.00,292.50 V301.50 M51.30,292.50 H54.70 M51.30,301.50 H54.70" stroke="#ae1238" stroke-width="0.9" fill="none"/>
<rect x="51.35" y="295.35" width="3.30" height="3.30" fill="#ae1238"/>
<path d="M85.50,282.80 V301.80 M83.80,282.80 H87.20 M83.80,301.80 H87.20" stroke="#ae1238" stroke-width="0.9" fill="none"/>
<rect x="83.85" y="290.65" width="3.30" height="3.30" fill="#ae1238"/>
<path d="M107.00,280.70 V286.70 M105.30,280.70 H108.70 M105.30,286.70 H108.70" stroke="#ae1238" stroke-width="0.9" fill="none"/>
<rect x="105.35" y="282.05" width="3.30" height="3.30" fill="#ae1238"/>
<path d="M134.50,297.50 V302.90 M132.80,297.50 H136.20 M132.80,302.90 H136.20" stroke="#ae1238" stroke-width="0.9" fill="none"/>
<rect x="132.85" y="298.55" width="3.30" height="3.30" fill="#ae1238"/>
<path d="M145.75,315.50 V319.50 M144.05,315.50 H147.45 M144.05,319.50 H147.45" stroke="#ae1238" stroke-width="0.9" fill="none"/>
<rect x="144.10" y="315.85" width="3.30" height="3.30" fill="#ae1238"/>
<path d="M154.00,333.50 V336.50 M152.30,333.50 H155.70 M152.30,336.50 H155.70" stroke="#ae1238" stroke-width="0.9" fill="none"/>
<rect x="152.35" y="333.35" width="3.30" height="3.30" fill="#ae1238"/>
<path d="M162.50,350.50 V352.50 M160.80,350.50 H164.20 M160.80,352.50 H164.20" stroke="#ae1238" stroke-width="0.9" fill="none"/>
<rect x="160.85" y="349.85" width="3.30" height="3.30" fill="#ae1238"/>
<path d="M53.00,286.88 L54.39,286.88 L55.77,286.88 L57.16,286.88 L58.54,286.88 L59.93,286.88 L61.32,286.88 L62.70,286.88 L64.09,286.88 L65.47,286.88 L66.86,286.88 L68.25,286.88 L69.63,286.88 L71.02,286.88 L72.41,286.88 L73.79,286.88 L75.18,286.88 L76.56,286.88 L77.95,286.89 L79.34,286.89 L80.72,286.89 L82.11,286.89 L83.49,286.89 L84.88,286.89 L86.27,286.89 L87.65,286.89 L89.04,286.89 L90.42,286.89 L91.81,286.90 L93.20,286.90 L94.58,286.90 L95.97,286.91 L97.35,286.91 L98.74,286.92 L100.13,286.93 L101.51,286.94 L102.90,286.95 L104.28,286.96 L105.67,286.98 L107.06,287.00 L108.44,287.02 L109.83,287.05 L111.22,287.08 L112.60,287.12 L113.99,287.17 L115.37,287.23 L116.76,287.31 L118.15,287.40 L119.53,287.50 L120.92,287.63 L122.30,287.79 L123.69,287.98 L125.08,288.20 L126.46,288.47 L127.85,288.80 L129.23,289.19 L130.62,289.66 L132.01,290.22 L133.39,290.88 L134.78,291.67 L136.16,292.60 L137.55,293.70 L138.94,294.98 L140.32,296.47 L141.71,298.20 L143.09,300.17 L144.48,302.40 L145.87,304.90 L147.25,307.68 L148.64,310.70 L150.03,313.96 L151.41,317.42 L152.80,321.01 L154.18,324.69 L155.57,328.39 L156.96,332.03 L158.34,335.57 L159.73,338.94 L161.11,342.09 L162.50,345.00" stroke="#5ca83a" stroke-width="1.3" fill="none"/>
<path d="M53.00,285.50 V289.50 M51.30,285.50 H54.70 M51.30,289.50 H54.70" stroke="#5ca83a" stroke-width="0.9" fill="none"/>
<circle cx="53.00" cy="287.50" r="1.70" fill="#5ca83a"/>
<path d="M85.50,274.00 V280.60 M83.80,274.00 H87.20 M83.80,280.60 H87.20" stroke="#5ca83a" stroke-width="0.9" fill="none"/>
<circle cx="85.50" cy="277.30" r="1.70" fill="#5ca83a"/>
<path d="M107.00,286.50 V295.50 M105.30,286.50 H108.70 M105.30,295.50 H108.70" stroke="#5ca83a" stroke-width="0.9" fill="none"/>
<circle cx="107.00" cy="291.00" r="1.70" fill="#5ca83a"/>
<path d="M134.50,280.00 V285.60 M132.80,280.00 H136.20 M132.80,285.60 H136.20" stroke="#5ca83a" stroke-width="0.9" fill="none"/>
<circle cx="134.50" cy="282.80" r="1.70" fill="#5ca83a"/>
<path d="M145.75,304.25 V308.25 M144.05,304.25 H147.45 M144.05,308.25 H147.45" stroke="#5ca83a" stroke-width="0.9" fill="none"/>
<circle cx="145.75" cy="306.25" r="1.70" fill="#5ca83a"/>
<path d="M154.00,323.50 V326.50 M152.30,323.50 H155.70 M152.30,326.50 H155.70" stroke="#5ca83a" stroke-width="0.9" fill="none"/>
<circle cx="154.00" cy="325.00" r="1.70" fill="#5ca83a"/>
<path d="M162.50,345.50 V347.50 M160.80,345.50 H164.20 M160.80,347.50 H164.20" stroke="#5ca83a" stroke-width="0.9" fill="none"/>
<circle cx="162.50" cy="346.50" r="1.70" fill="#5ca83a"/>

<circle cx="223.9" cy="301.1" r="1.35" fill="#5ca83a"/>
<rect x="222.4" y="311.5" width="3" height="3" fill="#ae1238"/>
<path d="M223.9,323.4 L225.4,326.1 L222.4,326.1 Z" fill="#1d3a8c"/>
<text class="lg" transform="translate(228.6,302.7) scale(0.975,1)">Ba/F3-MPL CALR WT</text>
<text class="lg" transform="translate(228.6,315.2) scale(0.975,1)">Ba/F3-MPL CALR WT/del79</text>
<text class="lg" transform="translate(228.6,327.4) scale(0.975,1)">Ba/F3-MPL CALR del37/del37</text>

<rect x="0.5" y="0.5" width="519" height="390" fill="none" stroke="#000" stroke-width="1"/>
</svg>
</body></html>
